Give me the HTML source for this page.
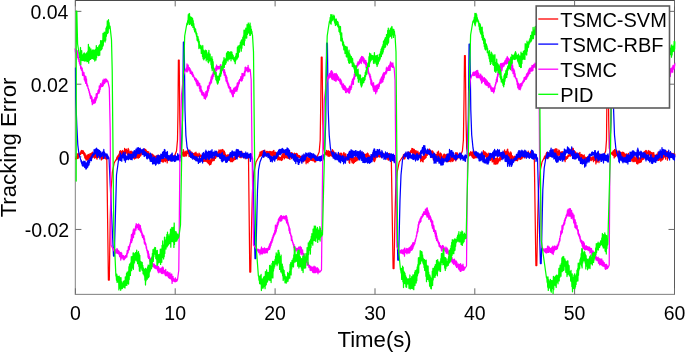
<!DOCTYPE html>
<html><head><meta charset="utf-8"><style>
html,body{margin:0;padding:0;background:#fff;}
body{width:685px;height:352px;overflow:hidden;position:relative;font-family:"Liberation Sans",sans-serif;}
svg{position:absolute;left:0;top:0;will-change:transform;}
.t{font-family:"Liberation Sans",sans-serif;fill:#000;}
</style></head><body>
<svg width="685" height="352" viewBox="0 0 685 352">
<defs><clipPath id="c"><rect x="74.5" y="0.4" width="600.9" height="293.90000000000003"/></clipPath></defs>
<g stroke="none">
<rect x="74" y="0" width="1" height="295" fill="#e6e6e6"/>
<rect x="75" y="0" width="1" height="295" fill="#9a9a9a"/>
<rect x="674" y="0" width="1" height="295" fill="#5a5a5a"/>
<rect x="75" y="0" width="600" height="1" fill="#4a4a4a"/>
<rect x="75" y="293" width="600" height="1" fill="#ececec"/>
<rect x="75" y="294" width="600" height="1" fill="#909090"/>
</g>
<g stroke="#6a6a6a" stroke-width="1" fill="none">
<line x1="75.4" y1="294.3" x2="75.4" y2="288.3"/>
<line x1="75.4" y1="0.4" x2="75.4" y2="6.4"/>
<line x1="175.2" y1="294.3" x2="175.2" y2="288.3"/>
<line x1="175.2" y1="0.4" x2="175.2" y2="6.4"/>
<line x1="275.1" y1="294.3" x2="275.1" y2="288.3"/>
<line x1="275.1" y1="0.4" x2="275.1" y2="6.4"/>
<line x1="375.0" y1="294.3" x2="375.0" y2="288.3"/>
<line x1="375.0" y1="0.4" x2="375.0" y2="6.4"/>
<line x1="474.8" y1="294.3" x2="474.8" y2="288.3"/>
<line x1="474.8" y1="0.4" x2="474.8" y2="6.4"/>
<line x1="574.6" y1="294.3" x2="574.6" y2="288.3"/>
<line x1="574.6" y1="0.4" x2="574.6" y2="6.4"/>
<line x1="674.5" y1="294.3" x2="674.5" y2="288.3"/>
<line x1="674.5" y1="0.4" x2="674.5" y2="6.4"/>
<line x1="75.4" y1="11.35" x2="81.4" y2="11.35"/>
<line x1="674.5" y1="11.35" x2="668.5" y2="11.35"/>
<line x1="75.4" y1="84.2" x2="81.4" y2="84.2"/>
<line x1="674.5" y1="84.2" x2="668.5" y2="84.2"/>
<line x1="75.4" y1="156.85" x2="81.4" y2="156.85"/>
<line x1="674.5" y1="156.85" x2="668.5" y2="156.85"/>
<line x1="75.4" y1="229.45" x2="81.4" y2="229.45"/>
<line x1="674.5" y1="229.45" x2="668.5" y2="229.45"/>
</g>
<g clip-path="url(#c)" fill="none" stroke-width="1.25" stroke-linejoin="round" stroke-linecap="round">
<path d="M75.7,159.0 76.0,157.9 76.3,158.9 76.6,156.9 76.9,158.7 77.2,154.0 77.5,157.1 77.8,153.8 78.1,158.4 78.4,153.7 78.7,157.1 79.1,154.2 79.4,155.4 79.7,153.6 80.0,154.7 80.3,152.7 80.6,154.4 80.9,151.2 81.2,153.3 81.5,150.5 81.8,153.2 82.1,150.5 82.4,153.4 82.7,150.8 83.0,153.2 83.3,150.8 83.6,154.2 83.9,152.1 84.2,155.7 84.5,152.8 84.8,157.9 85.2,153.9 85.5,158.6 85.8,155.8 86.1,160.1 86.4,155.8 86.7,159.6 87.0,155.1 87.3,159.9 87.6,155.4 87.9,160.0 88.2,154.4 88.5,159.3 88.8,154.7 89.1,158.6 89.4,156.2 89.7,158.3 90.0,153.6 90.3,159.1 90.6,155.1 90.9,158.9 91.2,153.4 91.6,158.9 91.9,153.0 92.2,157.4 92.5,152.2 92.8,157.0 93.1,153.6 93.4,157.2 93.7,154.1 94.0,156.3 94.3,153.6 94.6,158.2 94.9,152.8 95.2,157.5 95.5,155.1 95.8,157.4 96.1,153.0 96.4,157.9 96.7,153.2 97.0,159.2 97.3,155.0 97.7,156.8 98.0,154.7 98.3,157.2 98.6,154.2 98.9,157.3 99.2,153.9 99.5,156.5 99.8,154.0 100.1,157.0 100.4,153.7 100.7,156.7 101.0,154.1 101.3,160.0 101.6,153.3 101.9,159.3 102.2,152.9 102.5,158.8 102.8,154.7 103.1,158.7 103.4,156.0 103.8,157.8 104.1,155.3 104.4,158.1 104.7,156.6 105.0,158.3 105.3,155.7 105.6,158.7 105.9,156.3 106.2,159.2 106.5,157.6 106.8,158.0 106.8,158.0 108.4,280.0 109.3,280.0 110.2,220.0 111.0,190.0 112.4,172.0 114.2,163.0 115.8,160.0 115.8,160.0 116.1,159.5 116.4,159.9 116.7,157.6 117.0,159.1 117.3,156.7 117.6,158.7 117.9,155.7 118.2,159.7 118.5,155.0 118.8,158.3 119.1,153.8 119.4,157.2 119.7,151.3 120.0,156.7 120.3,150.6 120.6,157.7 120.9,151.2 121.2,154.7 121.5,152.4 121.9,154.2 122.2,150.9 122.5,154.0 122.8,150.5 123.1,155.5 123.4,151.7 123.7,153.3 124.0,151.3 124.3,155.6 124.6,148.4 124.9,155.3 125.2,149.2 125.5,153.4 125.8,150.1 126.1,152.7 126.4,149.2 126.7,153.0 127.0,150.1 127.3,154.3 127.6,150.5 127.9,155.3 128.2,148.4 128.5,153.6 128.8,149.7 129.1,154.3 129.4,151.5 129.7,153.4 130.0,152.1 130.3,153.9 130.6,151.3 130.9,155.1 131.2,151.2 131.5,155.3 131.8,151.9 132.1,156.6 132.4,152.1 132.7,157.3 133.0,154.9 133.3,158.1 133.7,154.7 134.0,157.1 134.3,154.8 134.6,159.0 134.9,155.0 135.2,158.1 135.5,152.8 135.8,158.2 136.1,153.6 136.4,157.8 136.7,153.3 137.0,157.7 137.3,153.4 137.6,157.3 137.9,153.7 138.2,158.3 138.5,154.7 138.8,156.5 139.1,152.9 139.4,157.4 139.7,153.0 140.0,156.1 140.3,152.4 140.6,155.9 140.9,152.5 141.2,155.0 141.5,150.9 141.8,153.4 142.1,150.9 142.4,152.9 142.7,149.7 143.0,152.0 143.3,150.3 143.6,153.6 143.9,149.3 144.2,152.0 144.5,148.9 144.8,152.7 145.2,149.5 145.5,154.9 145.8,149.5 146.1,153.3 146.4,150.6 146.7,153.6 147.0,151.4 147.3,154.5 147.6,151.7 147.9,153.9 148.2,152.0 148.5,155.2 148.8,151.9 149.1,157.4 149.4,153.6 149.7,156.7 150.0,153.7 150.3,155.0 150.6,154.2 150.9,157.2 151.2,153.9 151.5,156.9 151.8,154.5 152.1,156.5 152.4,154.1 152.7,157.2 153.0,155.6 153.3,157.7 153.6,155.0 153.9,159.0 154.2,156.5 154.5,158.3 154.8,156.1 155.1,158.8 155.4,156.3 155.7,160.1 156.0,156.3 156.3,158.9 156.6,155.9 157.0,159.1 157.3,156.4 157.6,159.6 157.9,155.1 158.2,159.0 158.5,156.7 158.8,158.9 159.1,156.0 159.4,159.7 159.7,155.8 160.0,160.5 160.3,157.5 160.6,159.7 160.9,157.6 161.2,161.0 161.5,158.6 161.8,161.5 162.1,158.1 162.4,160.3 162.7,158.5 163.0,162.3 163.3,158.8 163.6,161.7 163.9,158.3 164.2,160.8 164.5,158.4 164.8,160.7 165.1,158.9 165.4,161.6 165.7,156.4 166.0,160.0 166.3,157.7 166.6,160.7 166.9,154.9 167.2,162.9 167.5,157.8 167.8,160.5 168.1,157.7 168.4,160.1 168.8,156.4 169.1,159.4 169.4,157.8 169.7,160.3 170.0,156.6 170.3,160.9 170.6,156.6 170.9,158.6 171.2,156.8 171.5,160.2 171.8,155.7 172.1,158.3 172.4,155.5 172.7,158.3 173.0,155.7 173.3,157.4 173.6,155.9 173.9,156.6 174.2,156.0 174.5,156.0 174.5,156.0 176.5,151.0 177.5,140.0 178.0,110.0 178.4,60.0 179.2,60.0 179.8,120.0 180.5,148.0 181.8,154.0 181.8,154.0 182.1,153.0 182.4,154.9 182.7,152.1 183.0,156.2 183.3,149.6 183.6,155.9 183.9,152.2 184.2,156.5 184.5,152.3 184.8,155.1 185.1,151.1 185.4,155.6 185.7,152.3 186.0,156.2 186.3,151.6 186.6,155.6 186.9,150.9 187.2,153.4 187.5,151.8 187.8,153.5 188.1,150.0 188.4,153.7 188.7,151.3 189.0,156.5 189.3,150.3 189.6,156.4 189.9,150.2 190.3,155.2 190.6,152.9 190.9,156.7 191.2,153.4 191.5,155.5 191.8,152.2 192.1,157.4 192.4,152.8 192.7,155.9 193.0,153.4 193.3,157.8 193.6,153.6 193.9,156.9 194.2,153.5 194.5,159.4 194.8,153.0 195.1,158.4 195.4,152.8 195.7,158.4 196.0,152.2 196.3,157.6 196.6,153.5 196.9,156.1 197.2,153.7 197.5,157.1 197.8,155.3 198.1,156.7 198.4,154.7 198.7,156.3 199.0,153.1 199.3,156.6 199.6,153.8 199.9,156.8 200.2,155.0 200.5,156.9 200.8,155.1 201.1,157.2 201.4,155.5 201.7,158.9 202.0,156.0 202.3,158.7 202.6,156.8 202.9,159.3 203.2,155.7 203.5,161.4 203.8,154.3 204.1,160.3 204.4,155.7 204.7,161.3 205.0,156.3 205.3,160.4 205.6,155.9 205.9,161.4 206.2,156.1 206.5,161.1 206.9,157.0 207.2,162.1 207.5,158.7 207.8,162.7 208.1,159.5 208.4,163.4 208.7,159.1 209.0,163.9 209.3,160.0 209.6,165.0 209.9,161.0 210.2,162.6 210.5,159.8 210.8,164.4 211.1,158.4 211.4,162.9 211.7,158.8 212.0,161.1 212.3,158.7 212.6,160.8 212.9,158.2 213.2,159.7 213.5,157.3 213.8,160.6 214.1,154.8 214.4,160.2 214.7,154.4 215.0,158.4 215.3,153.7 215.6,158.3 215.9,152.6 216.2,157.2 216.5,154.2 216.8,155.8 217.1,153.4 217.4,155.1 217.7,152.5 218.0,154.3 218.3,151.5 218.6,154.4 218.9,150.0 219.2,154.5 219.5,150.3 219.8,153.5 220.1,150.2 220.4,153.4 220.7,150.1 221.0,153.3 221.3,149.8 221.6,152.8 221.9,150.7 222.2,154.2 222.5,149.5 222.8,154.3 223.1,149.9 223.4,158.7 223.8,151.3 224.1,155.4 224.4,151.2 224.7,156.6 225.0,152.6 225.3,156.7 225.6,154.3 225.9,157.9 226.2,155.5 226.5,157.9 226.8,155.7 227.1,158.2 227.4,154.8 227.7,158.7 228.0,154.9 228.3,158.9 228.6,154.8 228.9,160.2 229.2,156.0 229.5,160.7 229.8,155.3 230.1,158.9 230.4,156.5 230.7,161.6 231.0,155.6 231.3,160.8 231.6,156.4 231.9,161.7 232.2,157.6 232.5,161.6 232.8,158.5 233.1,160.7 233.4,158.1 233.7,160.6 234.0,157.9 234.3,159.0 234.6,157.0 234.9,159.4 235.2,154.8 235.5,159.4 235.8,154.5 236.1,158.0 236.4,151.9 236.7,158.4 237.0,152.6 237.3,157.4 237.6,150.4 237.9,156.7 238.2,153.2 238.5,156.4 238.8,153.5 239.1,156.8 239.4,153.0 239.7,157.3 240.0,151.5 240.4,157.2 240.7,153.2 241.0,157.8 241.3,151.2 241.6,157.0 241.9,151.8 242.2,157.0 242.5,153.1 242.8,156.0 243.1,153.3 243.4,155.4 243.7,154.1 244.0,156.2 244.3,153.7 244.6,157.2 244.9,154.3 245.2,158.6 245.5,154.5 245.8,157.7 246.1,154.1 246.4,157.2 246.7,155.8 247.0,157.7 247.3,155.4 247.6,157.7 247.9,156.7 248.2,157.8 248.5,157.5 248.5,157.5 249.8,272.0 250.7,272.0 251.7,220.0 252.5,190.0 254.0,172.0 256.0,162.0 258.5,157.5 258.5,157.5 258.8,156.7 259.1,156.9 259.4,154.7 259.7,156.0 260.0,152.1 260.3,156.2 260.6,152.7 260.9,155.7 261.2,151.3 261.5,155.4 261.8,151.4 262.1,154.3 262.4,151.4 262.7,155.3 263.0,150.7 263.3,155.1 263.6,150.7 263.9,155.7 264.2,150.8 264.5,156.2 264.8,150.2 265.1,155.5 265.4,151.9 265.7,154.8 266.0,153.1 266.3,154.1 266.6,151.3 266.9,154.2 267.2,152.0 267.5,153.8 267.8,151.3 268.1,152.9 268.5,151.9 268.8,153.6 269.1,151.8 269.4,153.5 269.7,151.3 270.0,154.5 270.3,152.1 270.6,155.3 270.9,151.5 271.2,155.5 271.5,152.3 271.8,154.7 272.1,151.6 272.4,155.4 272.7,152.2 273.0,156.8 273.3,150.8 273.6,156.6 273.9,150.3 274.2,156.3 274.5,152.8 274.8,158.6 275.1,152.5 275.4,158.2 275.7,152.2 276.0,156.7 276.3,153.0 276.6,158.0 276.9,154.8 277.2,156.9 277.5,153.3 277.8,160.2 278.1,155.1 278.4,159.4 278.7,156.3 279.0,159.4 279.3,157.6 279.6,159.9 279.9,157.4 280.2,159.9 280.5,157.6 280.8,159.7 281.1,157.1 281.4,160.5 281.7,155.6 282.0,160.1 282.3,154.3 282.6,159.5 282.9,153.2 283.2,157.4 283.5,153.0 283.8,156.6 284.1,153.7 284.4,158.8 284.7,152.8 285.0,157.2 285.3,152.3 285.6,157.7 285.9,153.2 286.2,157.2 286.5,154.1 286.8,157.9 287.1,155.0 287.4,158.1 287.8,155.3 288.1,156.7 288.4,153.4 288.7,158.5 289.0,151.9 289.3,157.6 289.6,153.2 289.9,159.4 290.2,154.0 290.5,156.4 290.8,153.2 291.1,157.3 291.4,152.7 291.7,158.6 292.0,152.9 292.3,157.0 292.6,153.3 292.9,157.2 293.2,154.3 293.5,156.4 293.8,154.4 294.1,158.9 294.4,153.1 294.7,158.5 295.0,154.5 295.3,158.9 295.6,153.8 295.9,159.7 296.2,153.5 296.5,158.6 296.8,153.4 297.1,156.9 297.4,154.1 297.7,157.1 298.0,155.1 298.3,157.4 298.6,155.7 298.9,156.8 299.2,155.6 299.5,157.7 299.8,155.8 300.1,157.7 300.4,156.7 300.7,158.9 301.0,156.5 301.3,159.1 301.6,156.7 301.9,159.3 302.2,156.2 302.5,160.9 302.8,157.6 303.1,162.0 303.4,155.0 303.7,161.3 304.0,156.6 304.3,160.7 304.6,157.9 304.9,160.6 305.2,156.1 305.5,160.5 305.8,156.8 306.1,163.8 306.4,158.4 306.7,161.2 307.0,156.3 307.4,162.4 307.7,158.2 308.0,162.9 308.3,157.9 308.6,161.3 308.9,158.0 309.2,161.4 309.5,158.0 309.8,159.5 310.1,157.1 310.4,160.0 310.7,157.5 311.0,160.4 311.3,157.4 311.6,160.2 311.9,157.2 312.2,160.5 312.5,158.2 312.8,160.7 313.1,158.8 313.4,160.3 313.7,158.4 314.0,161.1 314.3,158.2 314.6,161.9 314.9,157.9 315.2,162.0 315.5,156.0 315.8,161.7 316.1,157.5 316.4,159.1 316.7,156.6 317.0,157.0 317.0,157.0 319.2,152.0 320.2,140.0 320.8,100.0 321.3,57.0 322.1,57.0 322.8,120.0 323.5,148.0 325.0,154.0 325.0,154.0 325.3,153.3 325.6,154.2 325.9,152.2 326.2,155.0 326.5,150.3 326.8,154.8 327.1,151.9 327.4,154.8 327.7,151.1 328.0,156.2 328.3,150.7 328.6,155.2 328.9,152.4 329.2,156.5 329.5,151.4 329.8,155.4 330.1,151.5 330.4,155.6 330.7,152.0 331.0,155.1 331.3,151.6 331.6,156.0 331.9,151.5 332.2,156.1 332.5,149.7 332.8,156.8 333.1,151.6 333.4,156.2 333.7,151.0 334.0,156.0 334.3,152.4 334.6,156.4 334.9,152.8 335.2,155.6 335.5,154.2 335.8,156.5 336.2,155.1 336.5,156.6 336.8,155.3 337.1,157.6 337.4,155.3 337.7,157.4 338.0,154.0 338.3,158.0 338.6,155.0 338.9,158.8 339.2,154.5 339.5,158.6 339.8,153.3 340.1,159.9 340.4,155.1 340.7,158.1 341.0,153.0 341.3,158.8 341.6,153.3 341.9,158.1 342.2,156.0 342.5,160.2 342.8,154.9 343.1,158.7 343.4,153.2 343.7,158.8 344.0,152.5 344.3,159.4 344.6,154.8 344.9,159.4 345.2,154.0 345.5,159.9 345.8,153.9 346.1,158.2 346.4,157.1 346.7,159.0 347.0,156.7 347.3,160.3 347.6,156.7 347.9,159.3 348.2,156.6 348.5,158.0 348.8,156.7 349.1,162.5 349.4,155.3 349.7,163.3 350.0,155.3 350.3,159.4 350.6,157.7 350.9,159.4 351.2,158.8 351.5,160.9 351.8,157.7 352.1,162.7 352.4,157.0 352.7,161.0 353.0,158.0 353.3,163.5 353.6,159.4 353.9,162.7 354.2,158.0 354.5,162.3 354.8,157.1 355.1,161.1 355.4,156.6 355.7,161.4 356.0,157.4 356.3,159.6 356.6,157.4 356.9,160.7 357.2,155.2 357.5,158.1 357.8,154.7 358.1,159.9 358.5,154.4 358.8,157.4 359.1,153.8 359.4,156.7 359.7,154.2 360.0,157.3 360.3,152.8 360.6,155.2 360.9,151.8 361.2,157.3 361.5,152.3 361.8,155.4 362.1,153.7 362.4,155.5 362.7,153.5 363.0,157.4 363.3,152.6 363.6,158.2 363.9,153.7 364.2,157.6 364.5,154.3 364.8,157.5 365.1,154.6 365.4,156.5 365.7,154.5 366.0,156.8 366.3,153.9 366.6,157.3 366.9,154.7 367.2,156.9 367.5,153.0 367.8,159.4 368.1,153.6 368.4,160.6 368.7,154.8 369.0,158.8 369.3,155.7 369.6,158.5 369.9,156.9 370.2,160.4 370.5,156.7 370.8,159.6 371.1,156.5 371.4,158.7 371.7,155.1 372.0,159.0 372.3,155.3 372.6,158.4 372.9,153.3 373.2,159.8 373.5,153.5 373.8,160.9 374.1,152.1 374.4,161.7 374.7,152.3 375.0,160.8 375.3,153.3 375.6,158.9 375.9,153.1 376.2,157.0 376.5,154.3 376.8,157.3 377.1,154.8 377.4,156.7 377.7,154.1 378.0,156.1 378.3,153.7 378.6,156.7 378.9,151.5 379.2,156.8 379.5,149.6 379.8,157.1 380.1,152.1 380.5,156.4 380.8,152.8 381.1,156.7 381.4,153.1 381.7,157.8 382.0,152.0 382.3,155.4 382.6,154.3 382.9,155.1 383.2,153.5 383.5,155.7 383.8,153.7 384.1,157.0 384.4,154.7 384.7,156.8 385.0,154.1 385.3,156.2 385.6,154.3 385.9,157.9 386.2,154.6 386.5,157.5 386.8,153.8 387.1,159.1 387.4,154.4 387.7,158.1 388.0,153.8 388.3,160.1 388.6,154.0 388.9,160.0 389.2,153.4 389.5,159.2 389.8,153.8 390.1,159.7 390.4,155.3 390.7,158.8 391.0,157.3 391.3,158.0 391.3,158.0 393.1,268.5 394.0,268.5 394.9,220.0 395.7,190.0 397.2,172.0 399.2,162.0 402.5,157.0 402.5,157.0 402.8,156.6 403.1,157.5 403.4,154.9 403.7,158.8 404.0,154.4 404.3,159.0 404.6,154.5 404.9,158.6 405.2,153.5 405.5,156.3 405.8,154.6 406.1,155.9 406.4,154.3 406.7,155.7 407.0,153.7 407.3,156.7 407.6,152.6 407.9,156.3 408.2,152.0 408.6,155.5 408.9,152.4 409.2,153.8 409.5,152.7 409.8,154.3 410.1,151.7 410.4,153.4 410.7,150.7 411.0,152.8 411.3,150.1 411.6,152.4 411.9,148.4 412.2,152.2 412.5,148.7 412.8,154.4 413.1,148.9 413.4,153.1 413.7,149.7 414.0,152.9 414.3,149.3 414.6,154.3 414.9,150.5 415.2,156.0 415.5,150.9 415.8,153.8 416.1,150.7 416.4,154.3 416.7,151.8 417.0,154.6 417.3,152.6 417.6,155.6 417.9,151.2 418.2,155.0 418.5,152.8 418.8,156.8 419.1,154.1 419.4,157.6 419.7,152.7 420.1,157.1 420.4,152.7 420.7,161.6 421.0,155.7 421.3,159.8 421.6,155.9 421.9,160.4 422.2,156.6 422.5,161.4 422.8,157.0 423.1,161.9 423.4,156.2 423.7,159.4 424.0,156.8 424.3,159.2 424.6,154.9 424.9,158.1 425.2,154.8 425.5,158.2 425.8,152.9 426.1,157.5 426.4,153.4 426.7,155.0 427.0,151.5 427.3,155.3 427.6,149.8 427.9,153.0 428.2,150.2 428.5,152.7 428.8,149.9 429.1,153.1 429.4,149.0 429.7,151.7 430.0,150.2 430.3,153.5 430.6,150.6 430.9,156.3 431.2,151.0 431.6,156.7 431.9,151.1 432.2,157.7 432.5,150.9 432.8,156.5 433.1,151.7 433.4,160.1 433.7,152.8 434.0,158.8 434.3,154.2 434.6,157.2 434.9,153.8 435.2,158.0 435.5,155.4 435.8,156.7 436.1,154.7 436.4,158.2 436.7,154.5 437.0,160.7 437.3,152.1 437.6,161.1 437.9,152.2 438.2,160.7 438.5,151.2 438.8,157.0 439.1,154.3 439.4,157.1 439.7,154.0 440.0,157.2 440.3,152.9 440.6,158.4 440.9,153.3 441.2,158.7 441.5,154.0 441.8,159.2 442.1,156.0 442.4,159.3 442.7,156.5 443.1,158.9 443.4,154.8 443.7,161.3 444.0,154.2 444.3,160.9 444.6,154.2 444.9,160.2 445.2,155.5 445.5,159.3 445.8,155.0 446.1,159.2 446.4,154.3 446.7,160.7 447.0,154.4 447.3,159.9 447.6,155.5 447.9,161.8 448.2,156.0 448.5,160.6 448.8,156.0 449.1,161.5 449.4,156.9 449.7,159.4 450.0,158.1 450.3,161.1 450.6,156.4 450.9,161.8 451.2,157.1 451.5,160.6 451.8,155.8 452.1,160.0 452.4,157.8 452.7,161.5 453.0,155.8 453.3,160.7 453.6,157.3 453.9,160.0 454.2,156.5 454.6,159.3 454.9,155.2 455.2,159.3 455.5,153.0 455.8,160.9 456.1,152.7 456.4,157.7 456.7,153.9 457.0,159.3 457.3,152.9 457.6,158.1 457.9,155.3 458.2,157.9 458.5,154.6 458.8,156.6 459.1,155.2 459.4,157.7 459.7,154.7 460.0,156.8 460.3,156.0 460.3,156.0 462.4,151.0 463.4,140.0 464.0,100.0 464.5,55.5 465.3,55.5 466.0,120.0 466.7,148.0 468.0,154.0 468.0,154.0 468.3,153.4 468.6,155.2 468.9,153.4 469.2,155.9 469.5,153.0 469.8,155.4 470.1,153.6 470.4,155.2 470.7,151.7 471.0,155.1 471.3,153.0 471.6,155.9 471.9,152.2 472.2,157.0 472.5,152.3 472.8,157.7 473.1,151.0 473.4,158.3 473.8,152.2 474.1,156.6 474.4,151.9 474.7,158.2 475.0,153.1 475.3,157.7 475.6,152.5 475.9,156.5 476.2,154.9 476.5,157.6 476.8,153.7 477.1,156.2 477.4,155.2 477.7,156.4 478.0,155.0 478.3,156.1 478.6,153.9 478.9,157.3 479.2,155.4 479.5,157.7 479.8,154.4 480.1,156.5 480.4,154.6 480.7,156.3 481.0,154.5 481.3,155.8 481.6,154.3 481.9,156.7 482.2,154.0 482.5,156.3 482.8,152.6 483.1,158.0 483.4,150.6 483.7,156.2 484.0,151.4 484.3,156.8 484.7,154.2 485.0,155.8 485.3,152.0 485.6,156.4 485.9,153.9 486.2,157.6 486.5,153.1 486.8,159.0 487.1,154.2 487.4,157.8 487.7,154.7 488.0,158.6 488.3,153.2 488.6,161.0 488.9,155.3 489.2,158.2 489.5,155.5 489.8,157.8 490.1,155.9 490.4,160.5 490.7,156.8 491.0,159.8 491.3,155.1 491.6,159.4 491.9,155.3 492.2,162.0 492.5,156.6 492.8,160.8 493.1,157.9 493.4,161.5 493.7,156.5 494.0,164.1 494.3,158.8 494.6,162.8 494.9,158.4 495.2,164.0 495.5,158.3 495.9,164.3 496.2,158.4 496.5,161.9 496.8,158.7 497.1,163.8 497.4,155.8 497.7,163.6 498.0,158.8 498.3,162.3 498.6,159.2 498.9,160.8 499.2,158.5 499.5,159.5 499.8,157.2 500.1,161.0 500.4,153.9 500.7,158.8 501.0,153.8 501.3,159.4 501.6,154.9 501.9,156.3 502.2,154.2 502.5,155.9 502.8,153.4 503.1,156.6 503.4,152.4 503.7,156.4 504.0,151.5 504.3,155.4 504.6,149.8 504.9,154.7 505.2,151.7 505.5,155.3 505.8,151.7 506.1,155.6 506.4,151.7 506.8,153.8 507.1,150.0 507.4,155.1 507.7,149.1 508.0,155.6 508.3,151.9 508.6,158.4 508.9,152.2 509.2,155.6 509.5,153.4 509.8,158.5 510.1,153.3 510.4,160.0 510.7,151.9 511.0,160.5 511.3,152.8 511.6,160.8 511.9,155.6 512.2,160.4 512.5,155.8 512.8,159.0 513.1,156.9 513.4,160.0 513.7,157.6 514.0,160.7 514.3,156.5 514.6,159.3 514.9,156.2 515.2,160.6 515.5,157.4 515.8,159.9 516.1,157.6 516.4,160.5 516.7,157.0 517.0,159.6 517.3,157.2 517.6,160.8 518.0,157.0 518.3,159.1 518.6,157.3 518.9,158.8 519.2,155.1 519.5,158.3 519.8,155.3 520.1,159.5 520.4,155.9 520.7,159.3 521.0,155.7 521.3,157.1 521.6,155.0 521.9,158.8 522.2,154.8 522.5,157.6 522.8,154.3 523.1,156.4 523.4,154.2 523.7,155.5 524.0,153.4 524.3,157.9 524.6,151.0 524.9,157.7 525.2,151.5 525.5,156.6 525.8,153.3 526.1,156.1 526.4,153.5 526.7,156.7 527.0,153.7 527.3,156.1 527.6,152.7 527.9,156.5 528.2,151.2 528.5,155.9 528.9,153.7 529.2,155.5 529.5,153.1 529.8,155.5 530.1,152.8 530.4,154.9 530.7,151.7 531.0,156.5 531.3,153.3 531.6,155.9 531.9,154.0 532.2,155.4 532.5,154.0 532.8,156.3 533.1,154.0 533.4,156.5 533.7,155.8 534.0,157.8 534.3,157.5 534.3,157.5 535.9,265.5 536.8,265.5 537.7,220.0 538.5,190.0 540.0,172.0 542.0,162.0 544.0,158.0 544.0,158.0 544.3,157.0 544.6,158.4 544.9,156.0 545.2,159.2 545.5,155.6 545.8,157.8 546.1,153.7 546.4,158.1 546.7,152.4 547.0,157.9 547.3,152.8 547.6,158.3 547.9,153.0 548.2,157.9 548.5,152.5 548.8,157.4 549.1,154.0 549.4,155.3 549.7,153.4 550.0,155.6 550.3,152.3 550.6,155.3 550.9,151.9 551.2,154.1 551.6,151.4 551.9,154.5 552.2,150.2 552.5,154.0 552.8,150.6 553.1,153.3 553.4,151.3 553.7,152.8 554.0,149.6 554.3,154.0 554.6,150.8 554.9,155.2 555.2,149.0 555.5,154.5 555.8,148.8 556.1,155.8 556.4,149.0 556.7,153.5 557.0,149.0 557.3,155.3 557.6,151.3 557.9,155.8 558.2,151.5 558.5,154.9 558.8,150.0 559.1,155.2 559.4,150.5 559.7,154.4 560.0,151.9 560.3,156.2 560.6,152.6 560.9,155.2 561.2,152.2 561.5,157.6 561.8,151.8 562.1,158.9 562.4,151.7 562.7,158.8 563.0,153.1 563.3,159.3 563.6,155.9 563.9,159.3 564.2,155.7 564.5,160.0 564.8,155.1 565.1,161.6 565.4,156.8 565.7,159.1 566.0,156.7 566.3,159.3 566.7,157.2 567.0,158.1 567.3,156.5 567.6,158.3 567.9,155.2 568.2,157.0 568.5,155.4 568.8,156.3 569.1,154.3 569.4,155.4 569.7,153.1 570.0,155.9 570.3,149.6 570.6,156.1 570.9,150.8 571.2,153.3 571.5,151.0 571.8,154.7 572.1,150.3 572.4,154.9 572.7,148.2 573.0,155.3 573.3,148.5 573.6,153.6 573.9,151.2 574.2,153.5 574.5,150.8 574.8,155.1 575.1,151.9 575.4,154.6 575.7,152.2 576.0,155.3 576.3,153.3 576.6,155.4 576.9,153.3 577.2,156.2 577.5,154.0 577.8,156.2 578.1,154.0 578.4,156.5 578.7,153.4 579.0,159.5 579.3,153.2 579.6,157.8 579.9,152.4 580.2,159.4 580.5,155.1 580.8,159.0 581.1,154.7 581.5,158.8 581.8,154.4 582.1,159.4 582.4,155.1 582.7,158.9 583.0,155.6 583.3,158.6 583.6,156.3 583.9,158.7 584.2,154.8 584.5,160.8 584.8,157.0 585.1,160.0 585.4,157.2 585.7,160.7 586.0,157.6 586.3,160.7 586.6,157.5 586.9,160.9 587.2,157.3 587.5,161.0 587.8,156.5 588.1,160.6 588.4,156.8 588.7,160.4 589.0,157.8 589.3,159.7 589.6,155.4 589.9,160.1 590.2,157.4 590.5,159.8 590.8,157.5 591.1,160.6 591.4,158.2 591.7,160.2 592.0,157.4 592.3,159.7 592.6,157.1 592.9,159.4 593.2,156.5 593.5,161.7 593.8,157.4 594.1,160.5 594.4,157.2 594.7,160.0 595.0,154.8 595.3,160.6 595.6,158.0 595.9,163.9 596.2,158.4 596.6,161.7 596.9,155.7 597.2,162.1 597.5,156.3 597.8,161.1 598.1,156.5 598.4,160.2 598.7,156.4 599.0,162.6 599.3,154.2 599.6,159.9 599.9,154.1 600.2,159.1 600.5,155.7 600.8,158.6 601.1,155.7 601.4,160.7 601.7,155.4 602.0,158.7 602.3,156.3 602.6,157.5 602.9,156.3 603.2,156.8 603.5,155.4 603.8,155.5 603.8,155.5 605.7,151.0 606.5,140.0 606.9,100.0 607.3,50.0 608.1,50.0 608.7,120.0 609.3,148.0 610.6,154.0 610.6,154.0 610.9,153.3 611.2,153.9 611.5,153.0 611.8,154.1 612.1,152.1 612.4,154.3 612.7,151.8 613.0,155.4 613.3,150.7 613.6,154.5 613.9,151.6 614.2,157.9 614.5,149.7 614.8,155.2 615.1,149.3 615.4,156.6 615.7,151.5 616.0,154.2 616.3,150.7 616.6,155.7 616.9,150.7 617.3,155.2 617.6,152.1 617.9,155.1 618.2,152.0 618.5,157.2 618.8,151.2 619.1,156.8 619.4,151.8 619.7,156.6 620.0,151.7 620.3,156.1 620.6,152.7 620.9,156.3 621.2,153.1 621.5,155.0 621.8,152.5 622.1,157.6 622.4,152.1 622.7,157.5 623.0,153.4 623.3,156.4 623.6,152.4 623.9,157.5 624.2,153.0 624.5,156.9 624.8,154.0 625.1,157.3 625.4,154.1 625.7,158.1 626.0,154.6 626.3,157.6 626.6,153.9 626.9,156.9 627.2,155.3 627.5,158.1 627.8,155.8 628.1,157.9 628.4,153.4 628.7,159.5 629.0,155.2 629.3,157.9 629.6,155.3 629.9,158.2 630.3,157.1 630.6,159.6 630.9,155.4 631.2,158.8 631.5,156.1 631.8,161.0 632.1,155.8 632.4,159.2 632.7,156.7 633.0,161.7 633.3,156.9 633.6,159.7 633.9,154.8 634.2,161.7 634.5,156.8 634.8,160.7 635.1,157.8 635.4,161.1 635.7,158.2 636.0,161.5 636.3,156.1 636.6,163.3 636.9,156.7 637.2,163.8 637.5,156.9 637.8,163.9 638.1,156.8 638.4,162.1 638.7,157.4 639.0,163.0 639.3,157.8 639.6,162.3 639.9,158.8 640.2,161.5 640.5,159.0 640.8,162.4 641.1,155.9 641.4,161.4 641.7,156.9 642.0,159.8 642.3,154.4 642.6,159.6 642.9,153.3 643.3,159.4 643.6,152.8 643.9,158.7 644.2,151.6 644.5,157.9 644.8,153.4 645.1,156.4 645.4,150.9 645.7,155.9 646.0,150.3 646.3,155.8 646.6,150.9 646.9,154.0 647.2,152.7 647.5,153.8 647.8,152.1 648.1,153.8 648.4,150.5 648.7,155.2 649.0,151.7 649.3,154.8 649.6,151.2 649.9,155.0 650.2,151.4 650.5,155.2 650.8,152.5 651.1,155.2 651.4,152.5 651.7,155.9 652.0,152.9 652.3,157.5 652.6,152.9 652.9,159.2 653.2,153.0 653.5,160.7 653.8,152.7 654.1,161.2 654.4,156.1 654.7,161.3 655.0,155.1 655.3,159.1 655.6,156.1 655.9,159.8 656.3,154.8 656.6,158.8 656.9,154.2 657.2,160.2 657.5,156.3 657.8,159.5 658.1,152.1 658.4,160.4 658.7,156.6 659.0,160.4 659.3,155.9 659.6,159.5 659.9,156.2 660.2,159.5 660.5,155.7 660.8,161.3 661.1,156.7 661.4,159.6 661.7,157.1 662.0,160.2 662.3,157.4 662.6,159.5 662.9,154.2 663.2,159.0 663.5,154.5 663.8,157.4 664.1,154.6 664.4,156.9 664.7,153.8 665.0,156.3 665.3,153.1 665.6,159.1 665.9,150.9 666.2,156.1 666.5,151.6 666.8,156.4 667.1,152.7 667.4,160.2 667.7,151.6 668.0,157.8 668.3,152.8 668.6,156.7 668.9,153.5 669.3,156.7 669.6,154.7 669.9,156.5 670.2,153.2 670.5,156.9 670.8,152.6 671.1,155.9 671.4,153.4 671.7,157.2 672.0,153.4 672.3,156.1 672.6,154.1 672.9,156.4 673.2,153.5 673.5,157.8 673.8,154.0 674.1,156.4 674.4,154.1 674.7,156.4 675.0,154.2 675.3,155.4 675.6,154.5" stroke="#ff0000" />
<path d="M75.4,68.0 75.8,100.0 76.8,125.0 77.8,145.0 78.8,153.0 80.5,159.0 80.5,159.0 80.8,159.7 81.1,161.8 81.4,160.5 81.7,163.8 82.0,162.3 82.3,165.4 82.6,161.9 82.9,166.2 83.2,162.0 83.5,165.5 83.8,161.1 84.1,166.2 84.4,162.8 84.7,167.5 85.0,161.4 85.4,167.8 85.7,163.1 86.0,169.1 86.3,162.8 86.6,168.5 86.9,164.9 87.2,167.5 87.5,161.2 87.8,167.0 88.1,160.1 88.4,165.3 88.7,161.3 89.0,165.0 89.3,159.8 89.6,162.6 89.9,158.4 90.2,160.4 90.5,157.8 90.8,160.4 91.1,156.7 91.4,160.6 91.7,155.9 92.0,158.0 92.3,154.3 92.6,155.5 92.9,153.7 93.2,155.9 93.5,153.0 93.8,154.9 94.1,149.7 94.4,154.5 94.8,150.8 95.1,152.8 95.4,149.0 95.7,153.4 96.0,150.0 96.3,154.5 96.6,148.1 96.9,156.5 97.2,150.3 97.5,157.5 97.8,149.4 98.1,155.5 98.4,149.8 98.7,155.0 99.0,152.3 99.3,156.2 99.6,150.4 99.9,158.9 100.2,152.9 100.5,156.9 100.8,151.7 101.1,155.9 101.4,153.3 101.7,156.4 102.0,153.1 102.3,155.1 102.6,152.3 102.9,155.0 103.2,151.2 103.5,158.4 103.8,149.4 104.1,157.8 104.5,152.0 104.8,155.5 105.1,153.4 105.4,155.3 105.7,154.2 106.0,156.6 106.3,154.3 106.6,157.9 106.9,153.9 107.2,158.9 107.5,154.8 107.8,158.1 108.1,156.0 108.4,158.5 108.7,157.4 109.0,158.0 109.0,158.0 113.5,256.0 114.3,256.0 116.5,175.0 118.8,158.0 118.8,158.0 119.1,157.5 119.4,159.0 119.7,157.3 120.0,160.5 120.3,153.0 120.6,160.0 120.9,156.0 121.2,160.8 121.5,155.3 121.8,161.1 122.1,154.2 122.4,157.9 122.7,154.9 123.0,157.7 123.3,152.4 123.6,158.0 123.9,154.1 124.2,160.1 124.5,154.8 124.8,160.3 125.1,152.3 125.4,162.2 125.7,155.3 126.0,159.6 126.3,156.2 126.7,159.6 127.0,156.8 127.3,158.9 127.6,156.0 127.9,159.0 128.2,153.6 128.5,159.7 128.8,154.4 129.1,158.8 129.4,154.3 129.7,158.4 130.0,154.2 130.3,159.0 130.6,155.4 130.9,159.5 131.2,154.1 131.5,158.1 131.8,154.5 132.1,159.8 132.4,154.5 132.7,157.9 133.0,151.8 133.3,157.0 133.6,153.5 133.9,157.4 134.2,150.7 134.5,155.6 134.8,150.8 135.1,154.9 135.4,151.1 135.7,157.6 136.0,149.1 136.3,155.7 136.6,149.5 136.9,154.0 137.2,147.9 137.5,153.4 137.8,148.5 138.1,153.6 138.4,147.7 138.7,152.2 139.0,148.4 139.3,153.5 139.6,148.7 139.9,153.7 140.2,148.2 140.5,152.2 140.8,149.3 141.1,152.1 141.4,150.2 141.7,152.1 142.0,149.8 142.4,154.3 142.7,151.2 143.0,154.7 143.3,148.8 143.6,153.1 143.9,148.8 144.2,156.5 144.5,151.4 144.8,155.9 145.1,151.8 145.4,155.0 145.7,152.2 146.0,155.4 146.3,152.6 146.6,158.1 146.9,153.6 147.2,158.9 147.5,153.8 147.8,158.2 148.1,153.6 148.4,157.6 148.7,154.0 149.0,158.0 149.3,155.4 149.6,159.0 149.9,155.8 150.2,161.3 150.5,153.2 150.8,159.6 151.1,156.2 151.4,161.4 151.7,154.9 152.0,161.4 152.3,157.6 152.6,163.9 152.9,159.0 153.2,163.8 153.5,157.2 153.8,162.0 154.1,158.6 154.4,163.6 154.7,157.0 155.0,163.1 155.3,158.6 155.6,165.2 155.9,158.9 156.2,164.3 156.5,157.9 156.8,162.5 157.1,155.5 157.4,163.1 157.8,157.4 158.1,161.7 158.4,155.2 158.7,163.8 159.0,156.8 159.3,162.6 159.6,155.9 159.9,163.3 160.2,155.9 160.5,161.3 160.8,154.2 161.1,158.3 161.4,154.3 161.7,158.5 162.0,154.3 162.3,157.4 162.6,152.3 162.9,158.6 163.2,151.7 163.5,158.3 163.8,152.0 164.1,155.0 164.4,149.5 164.7,156.9 165.0,149.9 165.3,158.0 165.6,152.3 165.9,156.5 166.2,153.4 166.5,157.9 166.8,152.1 167.1,158.8 167.4,151.5 167.7,159.2 168.0,155.6 168.3,160.5 168.6,155.6 168.9,159.2 169.2,156.5 169.5,158.8 169.8,155.6 170.1,159.9 170.4,154.9 170.7,160.5 171.0,155.9 171.3,161.1 171.6,153.8 171.9,161.2 172.2,153.0 172.5,161.0 172.8,156.7 173.1,159.9 173.5,156.3 173.8,160.6 174.1,155.9 174.4,161.5 174.7,157.7 175.0,160.3 175.3,155.2 175.6,161.2 175.9,156.1 176.2,159.3 176.5,156.5 176.8,159.9 177.1,156.3 177.4,159.9 177.7,153.6 178.0,159.1 178.3,155.8 178.6,159.7 178.9,155.2 179.2,160.3 179.5,154.9 179.8,161.1 180.1,155.7 180.4,157.7 180.7,156.4 181.0,157.0 181.0,157.0 182.5,120.0 183.4,42.0 184.2,42.0 185.0,110.0 185.9,135.6 187.1,147.5 189.3,153.4 189.3,153.4 189.6,153.5 189.9,155.6 190.2,153.0 190.5,157.3 190.8,151.6 191.1,156.4 191.4,153.7 191.7,158.0 192.0,154.9 192.3,158.0 192.6,153.3 192.9,159.3 193.2,155.3 193.5,158.4 193.8,156.1 194.1,158.3 194.4,156.5 194.7,158.9 195.0,156.3 195.3,160.0 195.7,157.1 196.0,160.8 196.3,157.5 196.6,160.7 196.9,156.7 197.2,160.9 197.5,158.1 197.8,161.2 198.1,158.8 198.4,163.4 198.7,159.0 199.0,162.4 199.3,156.2 199.6,161.2 199.9,158.9 200.2,162.2 200.5,158.6 200.8,160.9 201.1,158.4 201.4,161.1 201.7,156.5 202.0,161.1 202.3,153.9 202.6,163.0 202.9,153.1 203.2,159.3 203.5,152.5 203.8,157.9 204.1,154.2 204.4,158.4 204.7,153.6 205.0,158.1 205.3,151.6 205.6,159.7 205.9,150.2 206.2,159.4 206.5,151.3 206.8,156.5 207.1,152.6 207.4,157.2 207.7,152.5 208.0,158.6 208.4,151.1 208.7,159.3 209.0,152.6 209.3,159.3 209.6,151.3 209.9,158.3 210.2,151.9 210.5,156.4 210.8,150.8 211.1,157.6 211.4,151.9 211.7,156.4 212.0,149.7 212.3,158.2 212.6,154.3 212.9,155.4 213.2,152.4 213.5,155.3 213.8,152.2 214.1,158.1 214.4,152.4 214.7,155.7 215.0,151.0 215.3,154.7 215.6,153.0 215.9,155.3 216.2,151.2 216.5,155.9 216.8,151.7 217.1,155.3 217.4,154.3 217.7,156.6 218.0,153.8 218.3,156.4 218.6,154.3 218.9,156.3 219.2,155.2 219.5,157.7 219.8,153.3 220.1,158.4 220.4,155.3 220.7,157.8 221.1,154.4 221.4,160.7 221.7,153.1 222.0,161.7 222.3,152.6 222.6,161.7 222.9,154.9 223.2,160.6 223.5,155.6 223.8,160.5 224.1,155.4 224.4,159.8 224.7,155.8 225.0,160.0 225.3,157.3 225.6,162.1 225.9,157.2 226.2,162.0 226.5,157.5 226.8,162.4 227.1,157.8 227.4,161.5 227.7,156.9 228.0,160.4 228.3,157.0 228.6,159.6 228.9,156.1 229.2,160.0 229.5,154.1 229.8,157.4 230.1,152.9 230.4,157.2 230.7,152.6 231.0,156.7 231.3,153.0 231.6,156.5 231.9,151.2 232.2,157.2 232.5,151.0 232.8,157.9 233.1,152.6 233.4,155.5 233.8,151.9 234.1,155.5 234.4,151.9 234.7,154.3 235.0,153.0 235.3,156.4 235.6,151.9 235.9,158.7 236.2,149.9 236.5,156.7 236.8,149.3 237.1,159.0 237.4,150.3 237.7,154.3 238.0,149.6 238.3,156.1 238.6,150.1 238.9,154.1 239.2,152.5 239.5,154.5 239.8,151.7 240.1,156.1 240.4,151.4 240.7,156.9 241.0,152.3 241.3,156.8 241.6,151.6 241.9,155.9 242.2,154.4 242.5,155.8 242.8,153.7 243.1,157.4 243.4,153.9 243.7,158.0 244.0,153.2 244.3,157.7 244.6,154.3 244.9,157.0 245.2,153.5 245.5,157.0 245.8,152.0 246.1,158.6 246.5,153.4 246.8,157.2 247.1,154.3 247.4,158.1 247.7,152.9 248.0,156.9 248.3,154.5 248.6,157.7 248.9,154.4 249.2,157.3 249.5,154.1 249.8,157.9 250.1,154.2 250.4,161.4 250.7,153.5 251.0,158.1 251.3,153.9 251.6,158.9 251.9,156.6 252.2,158.5 252.5,158.0 252.5,158.0 255.0,258.5 255.8,258.5 257.5,190.0 258.5,170.0 260.0,162.0 262.0,157.0 262.0,157.0 262.3,156.1 262.6,156.8 262.9,154.1 263.2,156.7 263.5,151.6 263.8,157.4 264.1,150.3 264.4,155.3 264.7,152.4 265.0,155.7 265.3,152.4 265.6,155.5 265.9,153.7 266.2,156.5 266.5,154.0 266.8,155.6 267.1,154.4 267.4,155.9 267.7,153.4 268.0,157.5 268.3,155.1 268.6,157.3 268.9,153.5 269.2,158.0 269.5,154.6 269.9,159.2 270.2,155.8 270.5,161.5 270.8,156.4 271.1,159.6 271.4,156.6 271.7,161.0 272.0,157.3 272.3,161.9 272.6,157.8 272.9,159.6 273.2,156.3 273.5,159.6 273.8,156.1 274.1,160.3 274.4,156.0 274.7,161.1 275.0,156.5 275.3,158.9 275.6,156.8 275.9,158.8 276.2,154.7 276.5,158.4 276.8,152.6 277.1,157.2 277.4,154.1 277.7,156.6 278.0,151.3 278.3,155.1 278.6,150.4 278.9,154.7 279.2,149.4 279.5,154.3 279.8,150.2 280.1,153.1 280.4,149.5 280.7,154.6 281.0,149.9 281.3,153.5 281.6,149.2 281.9,151.3 282.2,148.4 282.5,152.6 282.8,148.9 283.1,152.2 283.4,149.7 283.7,152.8 284.0,151.1 284.3,152.0 284.6,150.2 284.9,152.6 285.2,149.8 285.6,154.7 285.9,149.7 286.2,154.5 286.5,149.3 286.8,153.5 287.1,147.8 287.4,155.6 287.7,148.3 288.0,155.9 288.3,148.8 288.6,157.1 288.9,151.6 289.2,158.4 289.5,150.2 289.8,156.7 290.1,152.3 290.4,155.1 290.7,153.6 291.0,156.6 291.3,154.2 291.6,157.8 291.9,153.9 292.2,158.0 292.5,153.3 292.8,157.5 293.1,153.8 293.4,160.0 293.7,154.8 294.0,159.3 294.3,155.7 294.6,161.2 294.9,154.7 295.2,161.5 295.5,154.3 295.8,163.5 296.1,155.9 296.4,161.2 296.7,157.4 297.0,160.5 297.3,158.2 297.6,161.6 297.9,157.3 298.2,164.3 298.5,159.0 298.8,164.4 299.1,159.4 299.4,162.4 299.7,159.2 300.0,160.1 300.3,158.3 300.6,160.6 300.9,158.2 301.3,162.1 301.6,156.7 301.9,163.3 302.2,155.1 302.5,160.1 302.8,156.7 303.1,161.2 303.4,156.4 303.7,161.2 304.0,154.0 304.3,160.1 304.6,154.8 304.9,159.8 305.2,155.0 305.5,159.5 305.8,152.9 306.1,156.9 306.4,153.3 306.7,156.3 307.0,153.9 307.3,155.9 307.6,153.8 307.9,155.5 308.2,152.8 308.5,156.9 308.8,153.7 309.1,157.3 309.4,153.8 309.7,157.5 310.0,152.5 310.3,156.5 310.6,153.2 310.9,159.4 311.2,155.6 311.5,158.2 311.8,153.5 312.1,157.4 312.4,154.4 312.7,157.6 313.0,154.1 313.3,157.4 313.6,153.9 313.9,157.4 314.2,155.1 314.5,158.5 314.8,154.8 315.1,159.2 315.4,156.0 315.7,160.2 316.0,155.9 316.3,160.3 316.6,157.9 317.0,159.9 317.3,157.0 317.6,160.5 317.9,157.7 318.2,160.3 318.5,156.8 318.8,160.1 319.1,156.9 319.4,160.8 319.7,156.7 320.0,160.1 320.3,156.7 320.6,161.0 320.9,156.3 321.2,160.5 321.5,156.2 321.8,160.4 322.1,155.4 322.4,160.1 322.7,156.3 323.0,160.0 323.3,154.7 323.6,158.3 323.9,156.5 324.2,157.6 324.5,157.0 324.5,157.0 325.8,120.0 326.6,43.0 327.4,43.0 328.2,110.0 329.2,135.0 330.4,148.0 331.5,153.0 331.5,153.0 331.8,152.8 332.1,155.0 332.4,152.8 332.7,156.4 333.0,152.1 333.3,158.1 333.6,152.2 333.9,156.4 334.2,154.2 334.5,158.4 334.8,155.3 335.1,159.6 335.4,153.2 335.7,159.2 336.0,152.8 336.3,157.3 336.6,154.4 336.9,159.6 337.2,155.7 337.5,159.8 337.8,155.2 338.1,159.4 338.4,152.4 338.7,161.2 339.0,155.2 339.3,162.0 339.7,156.3 340.0,160.7 340.3,155.4 340.6,162.8 340.9,156.9 341.2,160.4 341.5,156.3 341.8,159.9 342.1,156.8 342.4,161.4 342.7,155.7 343.0,161.0 343.3,156.4 343.6,163.8 343.9,158.5 344.2,162.1 344.5,158.4 344.8,162.1 345.1,156.5 345.4,163.2 345.7,157.8 346.0,160.6 346.3,157.8 346.6,159.1 346.9,157.3 347.2,158.7 347.5,154.6 347.8,159.7 348.1,154.2 348.4,158.3 348.7,153.0 349.0,160.0 349.3,151.7 349.6,157.3 349.9,151.2 350.2,157.4 350.5,151.3 350.8,156.9 351.1,149.7 351.4,157.8 351.7,153.7 352.0,157.7 352.3,150.5 352.6,156.8 352.9,152.3 353.2,157.6 353.5,151.1 353.8,155.7 354.1,152.3 354.4,154.5 354.7,151.4 355.0,155.8 355.3,150.7 355.7,156.3 356.0,150.6 356.3,155.8 356.6,151.9 356.9,155.0 357.2,152.0 357.5,157.2 357.8,151.4 358.1,157.6 358.4,152.2 358.7,159.0 359.0,151.6 359.3,159.7 359.6,153.2 359.9,160.0 360.2,150.4 360.5,156.9 360.8,152.6 361.1,158.1 361.4,152.6 361.7,160.5 362.0,151.3 362.3,159.3 362.6,155.3 362.9,162.4 363.2,152.9 363.5,159.4 363.8,154.1 364.1,162.5 364.4,154.4 364.7,162.6 365.0,157.5 365.3,161.3 365.6,157.7 365.9,162.3 366.2,158.7 366.5,161.8 366.8,158.6 367.1,161.8 367.4,157.7 367.7,163.1 368.0,157.6 368.3,162.1 368.6,157.1 368.9,162.4 369.2,157.4 369.5,163.3 369.8,158.7 370.1,162.7 370.4,157.0 370.7,162.5 371.0,154.6 371.3,159.9 371.7,155.2 372.0,161.6 372.3,154.7 372.6,159.7 372.9,152.1 373.2,156.3 373.5,150.1 373.8,156.0 374.1,148.9 374.4,157.1 374.7,149.2 375.0,157.3 375.3,152.7 375.6,154.4 375.9,151.5 376.2,155.1 376.5,151.3 376.8,156.2 377.1,149.6 377.4,157.0 377.7,149.7 378.0,155.3 378.3,150.1 378.6,153.4 378.9,151.4 379.2,154.2 379.5,149.4 379.8,154.5 380.1,151.7 380.4,153.9 380.7,152.3 381.0,156.7 381.3,152.5 381.6,157.3 381.9,150.5 382.2,157.8 382.5,151.9 382.8,156.0 383.1,153.0 383.4,156.1 383.7,154.6 384.0,159.4 384.3,154.4 384.6,158.3 384.9,153.6 385.2,157.8 385.5,151.9 385.8,159.5 386.1,153.0 386.4,157.8 386.7,153.2 387.0,157.0 387.3,152.5 387.7,157.6 388.0,154.3 388.3,156.7 388.6,154.0 388.9,156.4 389.2,155.2 389.5,159.2 389.8,155.1 390.1,160.9 390.4,154.0 390.7,161.4 391.0,154.4 391.3,159.3 391.6,153.8 391.9,159.7 392.2,156.1 392.5,160.4 392.8,154.6 393.1,160.8 393.4,154.2 393.7,160.8 394.0,155.4 394.3,162.7 394.6,155.4 394.9,159.6 395.2,157.1 395.5,158.0 395.5,158.0 397.8,260.0 398.6,260.0 400.0,200.0 401.0,175.0 402.5,160.0 404.0,155.0 404.0,155.0 404.3,154.4 404.6,155.1 404.9,153.8 405.2,156.7 405.5,152.8 405.8,157.0 406.1,152.0 406.4,155.9 406.7,153.5 407.0,155.9 407.3,153.9 407.6,158.4 407.9,151.9 408.2,159.0 408.5,152.0 408.8,158.8 409.1,153.2 409.4,155.9 409.7,152.8 410.0,157.5 410.3,153.3 410.6,158.0 410.9,154.6 411.2,156.9 411.5,155.3 411.8,158.4 412.1,155.7 412.4,159.0 412.7,153.8 413.0,159.0 413.3,156.5 413.6,159.5 413.9,154.1 414.2,158.8 414.6,155.0 414.9,159.0 415.2,157.2 415.5,161.0 415.8,155.5 416.1,159.2 416.4,153.8 416.7,158.7 417.0,154.7 417.3,160.1 417.6,153.8 417.9,158.5 418.2,155.0 418.5,159.6 418.8,155.6 419.1,157.2 419.4,155.5 419.7,157.0 420.0,154.5 420.3,158.1 420.6,151.1 420.9,158.2 421.2,150.3 421.5,153.4 421.8,149.8 422.1,151.6 422.4,147.7 422.7,153.2 423.0,147.2 423.3,155.1 423.6,145.7 423.9,155.3 424.2,146.2 424.5,154.3 424.8,145.6 425.1,152.8 425.4,148.5 425.7,152.5 426.0,150.7 426.3,153.0 426.6,150.6 426.9,153.7 427.2,149.6 427.5,152.2 427.8,149.0 428.1,153.8 428.4,150.4 428.7,154.1 429.0,150.7 429.3,154.4 429.6,151.5 429.9,155.0 430.2,150.2 430.5,157.3 430.8,151.3 431.1,157.5 431.4,153.0 431.7,155.9 432.0,153.9 432.3,157.1 432.6,155.0 432.9,156.9 433.2,154.5 433.5,159.6 433.8,152.8 434.1,163.3 434.4,153.3 434.7,162.1 435.0,154.3 435.3,162.7 435.7,156.8 436.0,163.1 436.3,156.0 436.6,160.0 436.9,158.8 437.2,161.2 437.5,158.3 437.8,160.7 438.1,156.0 438.4,161.0 438.7,156.8 439.0,163.2 439.3,157.5 439.6,162.5 439.9,159.4 440.2,163.2 440.5,159.3 440.8,165.0 441.1,158.6 441.4,164.8 441.7,156.9 442.0,165.1 442.3,158.5 442.6,164.1 442.9,159.3 443.2,164.7 443.5,158.7 443.8,162.5 444.1,159.4 444.4,160.9 444.7,159.4 445.0,160.8 445.3,158.2 445.6,161.0 445.9,158.7 446.2,161.6 446.5,156.4 446.8,161.8 447.1,154.5 447.4,161.6 447.7,154.0 448.0,158.9 448.3,154.7 448.6,160.6 448.9,153.5 449.2,158.4 449.5,149.4 449.8,159.6 450.1,151.0 450.4,155.3 450.7,150.8 451.0,155.3 451.3,150.7 451.6,157.2 451.9,150.7 452.2,157.1 452.5,152.7 452.8,156.6 453.1,152.2 453.4,156.8 453.7,153.0 454.0,158.8 454.3,155.4 454.6,158.0 454.9,156.3 455.2,158.9 455.5,154.9 455.8,160.1 456.1,154.1 456.4,159.4 456.8,155.3 457.1,158.2 457.4,155.8 457.7,157.4 458.0,156.0 458.3,157.3 458.6,154.9 458.9,157.5 459.2,153.6 459.5,157.4 459.8,153.0 460.1,158.6 460.4,154.3 460.7,159.8 461.0,153.0 461.3,158.4 461.6,154.6 461.9,157.9 462.2,156.0 462.5,158.5 462.8,155.5 463.1,160.3 463.4,157.4 463.7,159.0 464.0,156.8 464.3,159.9 464.6,156.0 464.9,160.9 465.2,154.9 465.5,161.3 465.8,155.4 466.1,158.2 466.4,156.1 466.7,157.3 467.0,157.0 467.0,157.0 468.3,120.0 469.1,44.0 469.9,44.0 470.8,110.0 471.7,135.0 473.0,148.0 474.3,154.0 474.3,154.0 474.6,153.4 474.9,154.7 475.2,152.5 475.5,155.5 475.8,151.3 476.1,156.0 476.4,151.8 476.7,155.8 477.0,152.4 477.3,157.1 477.6,154.0 477.9,157.9 478.2,152.9 478.5,158.2 478.8,155.7 479.1,160.8 479.4,154.2 479.7,160.9 480.0,153.9 480.3,158.7 480.7,156.7 481.0,160.7 481.3,153.0 481.6,159.7 481.9,151.9 482.2,159.1 482.5,153.5 482.8,161.8 483.1,155.4 483.4,161.3 483.7,155.9 484.0,162.6 484.3,155.7 484.6,161.2 484.9,158.6 485.2,163.1 485.5,159.5 485.8,162.6 486.1,159.7 486.4,162.5 486.7,157.8 487.0,163.9 487.3,158.2 487.6,162.2 487.9,157.4 488.2,164.0 488.5,156.6 488.8,162.3 489.1,155.9 489.4,160.1 489.7,153.3 490.0,159.4 490.3,153.4 490.6,158.6 490.9,153.7 491.2,157.1 491.5,154.3 491.8,157.3 492.1,153.4 492.4,156.5 492.7,152.3 493.0,157.3 493.4,151.7 493.7,159.1 494.0,150.4 494.3,158.6 494.6,149.3 494.9,155.7 495.2,150.7 495.5,155.8 495.8,152.3 496.1,155.3 496.4,150.9 496.7,154.2 497.0,151.6 497.3,156.4 497.6,149.3 497.9,155.3 498.2,151.1 498.5,156.1 498.8,150.4 499.1,156.2 499.4,149.8 499.7,155.4 500.0,152.7 500.3,155.2 500.6,152.9 500.9,156.8 501.2,152.7 501.5,157.0 501.8,152.3 502.1,159.7 502.4,153.4 502.7,156.7 503.0,151.1 503.3,158.8 503.6,153.9 503.9,156.9 504.2,152.9 504.5,157.7 504.8,154.9 505.1,161.1 505.4,155.4 505.7,161.5 506.1,155.3 506.4,161.5 506.7,156.5 507.0,160.5 507.3,154.9 507.6,166.3 507.9,156.7 508.2,163.1 508.5,156.6 508.8,163.7 509.1,157.6 509.4,166.1 509.7,159.3 510.0,164.3 510.3,159.8 510.6,164.2 510.9,161.6 511.2,166.4 511.5,158.9 511.8,165.8 512.1,159.9 512.4,164.1 512.7,160.4 513.0,162.2 513.3,159.6 513.6,162.3 513.9,158.6 514.2,160.8 514.5,158.3 514.8,160.3 515.1,157.7 515.4,158.7 515.7,156.3 516.0,159.6 516.3,154.7 516.6,159.4 516.9,154.1 517.2,158.3 517.5,154.8 517.8,157.4 518.1,152.1 518.4,155.7 518.8,150.7 519.1,157.2 519.4,152.5 519.7,155.5 520.0,150.6 520.3,157.7 520.6,152.4 520.9,156.2 521.2,151.6 521.5,155.0 521.8,150.1 522.1,156.3 522.4,152.2 522.7,155.6 523.0,150.9 523.3,156.3 523.6,152.6 523.9,156.9 524.2,151.6 524.5,156.3 524.8,150.2 525.1,156.6 525.4,152.9 525.7,155.8 526.0,151.0 526.3,158.3 526.6,152.2 526.9,156.9 527.2,152.7 527.5,157.0 527.8,153.7 528.1,157.3 528.4,152.5 528.7,157.1 529.0,153.5 529.3,158.4 529.6,154.4 529.9,157.3 530.2,153.9 530.5,157.1 530.8,154.2 531.1,157.4 531.5,150.2 531.8,158.4 532.1,154.0 532.4,158.1 532.7,150.5 533.0,159.1 533.3,151.5 533.6,159.1 533.9,154.8 534.2,157.2 534.5,153.8 534.8,158.1 535.1,154.6 535.4,157.8 535.7,154.2 536.0,161.5 536.3,154.6 536.6,160.0 536.9,157.2 537.2,158.9 537.5,158.0 537.5,158.0 540.4,263.5 541.2,263.5 542.8,190.0 544.2,168.0 546.0,157.0 546.0,157.0 546.3,156.1 546.6,156.9 546.9,153.9 547.2,157.7 547.5,152.0 547.8,158.6 548.1,152.6 548.4,156.5 548.7,153.8 549.0,156.1 549.3,153.9 549.6,156.2 549.9,150.7 550.2,156.1 550.5,150.0 550.8,156.4 551.1,148.1 551.4,156.5 551.7,153.0 552.0,157.1 552.4,150.2 552.7,157.1 553.0,149.5 553.3,155.9 553.6,152.3 553.9,159.0 554.2,152.8 554.5,157.2 554.8,154.3 555.1,158.6 555.4,153.2 555.7,160.9 556.0,153.7 556.3,161.8 556.6,155.5 556.9,162.4 557.2,157.7 557.5,160.4 557.8,156.2 558.1,161.8 558.4,156.9 558.7,160.2 559.0,157.6 559.3,159.6 559.6,156.4 559.9,159.3 560.2,156.6 560.5,160.4 560.8,153.0 561.1,159.1 561.4,156.3 561.7,158.9 562.0,153.2 562.3,161.2 562.6,154.9 562.9,161.0 563.2,152.6 563.5,159.6 563.8,151.4 564.1,159.1 564.4,149.0 564.7,159.1 565.0,149.8 565.4,154.6 565.7,149.9 566.0,153.3 566.3,150.3 566.6,151.7 566.9,149.8 567.2,152.5 567.5,146.8 567.8,152.6 568.1,147.6 568.4,153.4 568.7,148.1 569.0,153.7 569.3,149.4 569.6,151.4 569.9,149.2 570.2,153.7 570.5,150.6 570.8,153.4 571.1,150.4 571.4,155.1 571.7,146.8 572.0,155.6 572.3,151.3 572.6,158.5 572.9,152.3 573.2,156.9 573.5,150.5 573.8,158.7 574.1,150.9 574.4,156.4 574.7,153.4 575.0,159.1 575.3,153.9 575.6,158.7 575.9,153.8 576.2,158.7 576.5,154.6 576.8,156.4 577.1,152.8 577.4,157.3 577.8,155.0 578.1,158.2 578.4,154.2 578.7,160.2 579.0,155.5 579.3,158.8 579.6,157.2 579.9,160.9 580.2,158.2 580.5,163.4 580.8,158.8 581.1,163.2 581.4,157.7 581.7,163.4 582.0,159.6 582.3,164.2 582.6,159.4 582.9,163.4 583.2,161.5 583.5,163.3 583.8,159.6 584.1,163.7 584.4,160.5 584.7,167.1 585.0,158.6 585.3,165.6 585.6,160.9 585.9,166.0 586.2,160.8 586.5,162.8 586.8,158.1 587.1,162.9 587.4,157.7 587.7,161.3 588.0,157.2 588.3,160.4 588.6,155.8 588.9,162.2 589.2,154.4 589.5,160.9 589.8,154.2 590.1,156.4 590.5,154.2 590.8,155.7 591.1,154.4 591.4,155.6 591.7,152.4 592.0,155.6 592.3,151.8 592.6,154.1 592.9,152.7 593.2,154.6 593.5,152.5 593.8,155.0 594.1,153.0 594.4,156.2 594.7,150.7 595.0,157.9 595.3,150.7 595.6,160.0 595.9,153.0 596.2,157.3 596.5,153.2 596.8,157.7 597.1,152.8 597.4,158.7 597.7,151.9 598.0,160.9 598.3,151.1 598.6,159.8 598.9,153.6 599.2,160.1 599.5,155.0 599.8,159.2 600.1,156.1 600.4,158.6 600.7,154.3 601.0,161.5 601.3,155.1 601.6,161.4 601.9,154.1 602.2,159.2 602.5,156.3 602.8,160.0 603.1,153.7 603.5,163.0 603.8,154.7 604.1,160.3 604.4,153.5 604.7,159.7 605.0,154.9 605.3,160.5 605.6,155.1 605.9,159.6 606.2,156.1 606.5,160.8 606.8,155.5 607.1,158.8 607.4,154.9 607.7,161.9 608.0,153.9 608.3,162.0 608.6,155.9 608.9,159.3 609.2,156.7 609.5,157.0 609.5,157.0 611.0,120.0 611.9,44.0 612.7,44.0 613.6,110.0 614.5,135.0 615.8,148.0 617.0,154.0 617.0,154.0 617.3,153.6 617.6,156.2 617.9,154.5 618.2,157.9 618.5,154.1 618.8,161.4 619.1,150.9 619.4,162.8 619.7,152.3 620.0,159.8 620.3,152.7 620.6,160.1 620.9,154.7 621.2,159.7 621.5,156.6 621.8,160.8 622.1,157.4 622.4,161.8 622.7,156.8 623.0,162.8 623.3,157.8 623.6,161.7 623.9,158.2 624.2,160.2 624.6,157.7 624.9,162.2 625.2,157.6 625.5,162.1 625.8,157.8 626.1,160.4 626.4,155.8 626.7,162.6 627.0,154.4 627.3,161.4 627.6,156.0 627.9,164.1 628.2,154.9 628.5,161.1 628.8,155.3 629.1,161.4 629.4,156.0 629.7,159.0 630.0,152.2 630.3,161.4 630.6,152.4 630.9,158.6 631.2,154.3 631.5,158.5 631.8,151.9 632.1,157.0 632.4,150.9 632.7,157.6 633.0,153.9 633.3,156.2 633.6,150.8 633.9,155.8 634.2,151.9 634.5,154.1 634.8,152.1 635.1,155.1 635.4,153.0 635.7,154.8 636.0,152.7 636.3,156.7 636.6,152.9 636.9,155.4 637.2,150.0 637.5,157.7 637.8,148.2 638.1,159.0 638.4,149.9 638.7,155.5 639.1,152.3 639.4,154.7 639.7,152.2 640.0,154.7 640.3,152.1 640.6,158.7 640.9,151.2 641.2,156.7 641.5,151.8 641.8,157.0 642.1,153.8 642.4,156.6 642.7,152.8 643.0,157.8 643.3,153.1 643.6,157.6 643.9,152.7 644.2,156.7 644.5,154.3 644.8,157.5 645.1,153.0 645.4,159.2 645.7,154.5 646.0,160.9 646.3,155.1 646.6,159.3 646.9,154.9 647.2,158.2 647.5,156.2 647.8,159.6 648.1,154.7 648.4,160.5 648.7,155.7 649.0,158.9 649.3,157.4 649.6,162.0 649.9,157.5 650.2,160.7 650.5,155.2 650.8,161.1 651.1,154.6 651.4,163.2 651.7,156.8 652.0,162.3 652.3,157.5 652.6,163.5 652.9,158.9 653.2,161.5 653.5,158.2 653.9,162.0 654.2,158.2 654.5,161.0 654.8,157.1 655.1,161.9 655.4,155.4 655.7,162.4 656.0,156.5 656.3,160.5 656.6,155.5 656.9,160.6 657.2,156.2 657.5,158.7 657.8,155.0 658.1,158.9 658.4,152.7 658.7,158.1 659.0,151.5 659.3,157.6 659.6,153.1 659.9,154.7 660.2,149.9 660.5,155.2 660.8,151.1 661.1,158.0 661.4,151.6 661.7,154.5 662.0,147.7 662.3,157.5 662.6,149.9 662.9,154.5 663.2,149.4 663.5,153.5 663.8,150.0 664.1,154.4 664.4,149.8 664.7,154.8 665.0,150.5 665.3,156.3 665.6,150.2 665.9,154.6 666.2,152.6 666.5,154.8 666.8,153.9 667.1,156.4 667.4,152.6 667.7,156.2 668.0,151.8 668.4,157.8 668.7,150.2 669.0,157.9 669.3,153.7 669.6,159.9 669.9,152.6 670.2,157.4 670.5,151.7 670.8,156.2 671.1,153.7 671.4,157.4 671.7,153.9 672.0,157.5 672.3,153.6 672.6,158.0 672.9,155.4 673.2,159.3 673.5,154.2 673.8,158.5 674.1,154.4 674.4,160.1 674.7,155.2 675.0,157.3 675.3,156.2 675.6,156.4" stroke="#0000ff" />
<path d="M74.6,49.0 74.9,49.2 75.2,51.6 75.5,50.3 75.8,53.3 76.1,49.6 76.4,54.2 76.7,50.5 77.0,55.6 77.3,50.7 77.6,57.7 78.0,52.6 78.3,59.2 78.6,57.3 78.9,61.5 79.2,59.4 79.5,63.8 79.8,61.9 80.1,65.5 80.4,63.8 80.7,68.5 81.0,66.1 81.3,70.0 81.6,67.7 81.9,70.7 82.2,68.0 82.5,75.3 82.8,70.8 83.1,75.5 83.4,73.1 83.7,75.8 84.0,72.6 84.3,79.8 84.7,75.4 85.0,81.2 85.3,77.3 85.6,83.3 85.9,76.5 86.2,83.5 86.5,78.9 86.8,85.8 87.1,83.7 87.4,86.2 87.7,85.4 88.0,88.4 88.3,88.2 88.6,90.3 88.9,89.5 89.2,92.8 89.5,91.7 89.8,95.2 90.1,93.5 90.4,98.1 90.7,95.4 91.0,98.6 91.4,96.2 91.7,101.7 92.0,97.2 92.3,104.7 92.6,100.4 92.9,103.8 93.2,99.9 93.5,103.1 93.8,100.5 94.1,103.3 94.4,98.9 94.7,102.9 95.0,97.4 95.3,102.7 95.6,97.4 95.9,100.6 96.2,93.8 96.5,98.9 96.8,93.6 97.1,97.7 97.4,93.2 97.7,94.1 98.1,90.4 98.4,93.3 98.7,89.3 99.0,93.2 99.3,85.8 99.6,91.8 99.9,86.0 100.2,89.5 100.5,83.6 100.8,87.1 101.1,84.6 101.4,86.3 101.7,84.0 102.0,86.3 102.3,82.1 102.6,86.3 102.9,80.1 103.2,85.6 103.5,80.9 103.8,83.8 104.1,79.0 104.4,83.6 104.8,80.0 105.1,82.8 105.4,79.2 105.7,81.7 106.0,79.0 106.3,81.6 106.6,79.3 106.9,81.8 107.2,80.3 107.5,81.5 107.8,81.0 107.8,81.0 109.3,88.0 110.2,130.0 111.0,245.0 113.0,249.0 113.0,249.0 113.3,249.0 113.6,250.4 113.9,248.7 114.2,251.2 114.5,249.4 114.8,252.0 115.1,249.5 115.4,253.2 115.7,249.8 116.0,252.7 116.3,250.2 116.6,252.8 116.9,248.7 117.2,253.4 117.5,249.0 117.8,253.1 118.1,251.3 118.4,253.5 118.7,250.7 119.0,254.5 119.3,251.6 119.6,256.5 119.9,252.3 120.2,256.9 120.5,252.9 120.8,260.1 121.1,252.3 121.4,258.2 121.7,253.1 122.0,257.9 122.3,255.8 122.6,258.0 122.9,255.5 123.2,259.2 123.5,255.6 123.9,259.9 124.2,256.6 124.5,259.1 124.8,256.5 125.1,258.4 125.4,255.7 125.7,257.8 126.0,255.3 126.3,257.1 126.6,253.7 126.9,256.9 127.2,250.6 127.5,253.6 127.8,250.2 128.1,252.7 128.4,246.5 128.7,250.3 129.0,246.7 129.3,249.7 129.6,244.7 129.9,246.7 130.2,242.7 130.5,244.0 130.8,239.2 131.1,242.7 131.4,234.7 131.7,242.3 132.0,234.2 132.3,240.4 132.6,232.8 132.9,237.5 133.2,229.9 133.5,237.7 133.8,228.9 134.1,234.1 134.4,230.2 134.7,234.2 135.0,228.9 135.3,230.1 135.6,225.9 135.9,230.2 136.2,223.6 136.5,227.9 136.8,225.3 137.1,227.2 137.4,224.6 137.7,227.7 138.0,226.1 138.3,229.7 138.6,223.9 138.9,228.1 139.2,224.7 139.5,230.0 139.8,225.8 140.1,230.9 140.4,225.5 140.7,232.2 141.0,228.5 141.3,233.0 141.6,230.8 141.9,235.5 142.2,232.8 142.5,237.5 142.8,234.2 143.1,237.8 143.4,235.7 143.7,239.5 144.0,235.8 144.3,243.2 144.6,238.7 144.9,244.3 145.2,242.2 145.6,245.1 145.9,243.8 146.2,248.3 146.5,246.6 146.8,250.4 147.1,249.9 147.4,252.9 147.7,250.4 148.0,257.1 148.3,251.3 148.6,258.4 148.9,253.8 149.2,258.7 149.5,256.7 149.8,261.1 150.1,258.0 150.4,261.5 150.7,259.1 151.0,264.1 151.3,258.2 151.6,263.1 151.9,261.0 152.2,265.9 152.5,262.3 152.8,266.2 153.1,263.6 153.4,267.0 153.7,264.3 154.0,266.8 154.3,264.1 154.6,268.0 154.9,265.1 155.2,268.1 155.5,265.7 155.8,268.7 156.1,265.7 156.4,267.9 156.7,266.6 157.0,269.0 157.3,266.7 157.6,270.6 157.9,266.4 158.2,272.2 158.5,266.7 158.8,272.8 159.1,267.6 159.4,271.6 159.7,269.1 160.0,272.0 160.3,268.9 160.6,272.0 160.9,268.4 161.2,273.0 161.5,267.9 161.8,273.5 162.1,268.4 162.4,272.4 162.7,266.9 163.0,273.6 163.3,267.7 163.6,272.8 163.9,271.2 164.2,272.4 164.5,270.3 164.8,274.1 165.1,270.7 165.4,275.7 165.7,269.4 166.0,275.6 166.3,273.0 166.6,275.3 167.0,272.1 167.3,276.0 167.6,271.7 167.9,275.6 168.2,272.4 168.5,277.6 168.8,273.0 169.1,276.1 169.4,273.1 169.7,278.4 170.0,272.9 170.3,278.6 170.6,274.7 170.9,277.5 171.2,274.5 171.5,280.0 171.8,274.0 172.1,283.5 172.4,277.0 172.7,281.3 173.0,276.3 173.3,281.2 173.6,278.4 173.9,280.5 174.2,279.2 174.5,281.3 174.8,279.4 175.1,281.9 175.4,277.9 175.7,281.0 176.0,279.5 176.3,281.3 176.6,279.3 176.9,281.1 177.2,279.9 177.5,280.0 177.5,280.0 178.8,270.0 180.0,150.0 181.5,95.0 183.5,75.0 185.5,69.5 185.5,69.5 185.8,69.0 186.1,70.8 186.4,67.8 186.7,71.8 187.0,63.9 187.3,71.8 187.6,65.2 187.9,69.8 188.2,65.0 188.5,69.7 188.8,67.6 189.1,70.9 189.4,67.6 189.7,71.0 190.0,68.6 190.3,73.4 190.6,69.8 190.9,72.5 191.2,71.0 191.5,74.2 191.8,72.5 192.2,74.9 192.5,72.2 192.8,76.5 193.1,74.0 193.4,76.5 193.7,75.7 194.0,77.5 194.3,77.4 194.6,79.4 194.9,77.6 195.2,80.5 195.5,79.0 195.8,81.4 196.1,78.7 196.4,83.5 196.7,79.7 197.0,85.1 197.3,80.4 197.6,85.8 197.9,80.9 198.2,84.2 198.5,82.0 198.8,85.7 199.1,83.9 199.4,88.4 199.7,83.4 200.0,91.2 200.3,87.1 200.6,90.8 200.9,86.0 201.2,92.6 201.5,89.6 201.8,94.8 202.1,90.7 202.4,94.9 202.7,92.0 203.0,95.7 203.3,93.6 203.6,96.0 203.9,92.7 204.2,98.5 204.5,94.7 204.8,97.8 205.2,94.0 205.5,99.1 205.8,91.6 206.1,97.2 206.4,91.5 206.7,96.8 207.0,90.4 207.3,95.4 207.6,86.6 207.9,92.3 208.2,85.7 208.5,90.6 208.8,86.0 209.1,88.4 209.4,82.7 209.7,85.8 210.0,81.8 210.3,84.2 210.6,79.7 210.9,81.8 211.2,76.8 211.5,82.9 211.8,75.7 212.1,79.6 212.4,74.4 212.7,78.4 213.0,72.6 213.3,76.5 213.6,70.9 213.9,74.6 214.2,71.8 214.5,74.3 214.8,68.6 215.1,71.8 215.4,68.5 215.7,73.3 216.0,66.6 216.3,70.7 216.6,65.0 216.9,70.0 217.2,66.7 217.5,68.5 217.8,66.4 218.2,68.8 218.5,66.6 218.8,68.8 219.1,66.5 219.4,68.5 219.7,66.3 220.0,69.0 220.3,65.0 220.6,70.4 220.9,64.6 221.2,69.6 221.5,66.6 221.8,68.6 222.1,66.9 222.4,69.6 222.7,67.1 223.0,71.0 223.3,68.6 223.6,72.5 223.9,69.8 224.2,75.1 224.5,69.6 224.8,75.4 225.1,72.1 225.4,77.8 225.7,74.6 226.0,81.0 226.3,75.7 226.6,81.8 226.9,77.2 227.2,83.4 227.5,80.6 227.8,85.1 228.1,82.5 228.4,87.2 228.7,83.9 229.0,88.2 229.3,86.2 229.6,88.6 229.9,87.4 230.2,91.9 230.5,87.4 230.9,92.0 231.2,89.8 231.5,93.2 231.8,90.3 232.1,94.7 232.4,91.2 232.7,96.7 233.0,89.8 233.3,96.7 233.6,88.7 233.9,93.5 234.2,87.8 234.5,93.1 234.8,89.3 235.1,91.5 235.4,87.0 235.7,91.1 236.0,87.1 236.3,90.5 236.6,85.8 236.9,91.2 237.2,83.2 237.5,89.3 237.8,82.6 238.1,87.0 238.4,82.1 238.7,84.8 239.0,80.5 239.3,83.5 239.6,79.5 239.9,81.1 240.2,79.2 240.5,80.4 240.8,76.7 241.1,80.3 241.4,76.9 241.7,81.1 242.0,73.4 242.3,80.3 242.6,73.6 242.9,78.4 243.2,74.3 243.5,76.1 243.9,73.1 244.2,75.1 244.5,71.2 244.8,75.8 245.1,67.3 245.4,72.0 245.7,67.2 246.0,70.9 246.3,68.1 246.6,69.8 246.9,68.0 247.2,70.8 247.5,67.3 247.8,71.9 248.1,65.3 248.4,71.6 248.7,67.9 249.0,71.5 249.3,69.1 249.6,70.1 249.9,69.4 250.2,69.6 250.2,69.6 251.2,80.0 252.0,150.0 253.5,245.0 257.0,249.4 257.0,249.4 257.3,249.1 257.6,250.7 257.9,249.3 258.2,251.5 258.5,249.4 258.8,252.6 259.1,249.6 259.4,252.1 259.7,250.3 260.0,254.8 260.3,250.1 260.6,253.4 260.9,248.9 261.2,253.3 261.5,247.0 261.8,253.9 262.1,248.7 262.4,253.9 262.7,248.7 263.0,252.7 263.3,249.7 263.6,252.9 263.9,248.4 264.2,251.6 264.5,247.9 264.9,253.3 265.2,248.7 265.5,252.0 265.8,249.9 266.1,252.6 266.4,248.7 266.7,252.4 267.0,249.0 267.3,252.8 267.6,248.3 267.9,250.2 268.2,247.8 268.5,250.0 268.8,246.5 269.1,249.3 269.4,244.7 269.7,249.3 270.0,243.3 270.3,247.1 270.6,241.9 270.9,245.4 271.2,241.1 271.5,243.1 271.8,239.1 272.1,242.2 272.4,237.4 272.7,240.2 273.0,235.6 273.3,237.9 273.6,233.9 273.9,236.3 274.2,232.8 274.5,235.0 274.8,230.4 275.1,234.1 275.4,225.1 275.7,232.8 276.0,225.3 276.3,231.2 276.6,225.6 276.9,228.4 277.2,222.8 277.5,226.1 277.8,221.8 278.1,224.6 278.4,219.2 278.7,222.7 279.0,218.1 279.3,220.9 279.6,217.4 279.9,219.7 280.2,216.3 280.6,221.2 280.9,215.7 281.2,221.0 281.5,215.7 281.8,220.5 282.1,216.7 282.4,218.9 282.7,217.5 283.0,218.5 283.3,216.1 283.6,218.0 283.9,216.4 284.2,219.0 284.5,216.3 284.8,218.7 285.1,217.2 285.4,218.8 285.7,215.8 286.0,220.6 286.3,215.6 286.6,223.0 286.9,216.8 287.2,222.4 287.5,219.6 287.8,224.9 288.1,222.5 288.4,226.1 288.7,224.8 289.0,230.5 289.3,226.8 289.6,233.0 289.9,228.5 290.2,233.8 290.5,232.8 290.8,235.9 291.1,235.0 291.4,240.5 291.7,236.1 292.0,240.7 292.3,239.9 292.6,242.6 292.9,242.0 293.2,244.7 293.5,243.8 293.8,247.6 294.1,244.7 294.4,250.3 294.7,247.1 295.0,250.1 295.3,246.8 295.6,250.9 295.9,249.2 296.2,251.1 296.6,248.4 296.9,250.7 297.2,248.7 297.5,250.0 297.8,248.3 298.1,249.4 298.4,247.4 298.7,253.1 299.0,247.0 299.3,253.7 299.6,248.1 299.9,252.1 300.2,246.3 300.5,252.6 300.8,247.3 301.1,254.6 301.4,247.5 301.7,253.8 302.0,250.4 302.3,253.2 302.6,249.9 302.9,255.1 303.2,253.1 303.5,258.8 303.8,253.7 304.1,259.5 304.4,256.1 304.7,258.7 305.0,256.5 305.3,261.0 305.6,257.6 305.9,262.8 306.2,260.1 306.5,262.5 306.8,259.4 307.1,265.3 307.4,261.5 307.7,265.2 308.0,262.6 308.3,265.4 308.6,264.4 308.9,267.5 309.2,265.4 309.5,267.5 309.8,265.6 310.1,270.1 310.4,266.6 310.7,270.5 311.0,266.4 311.3,269.2 311.6,267.8 311.9,270.6 312.3,267.1 312.6,272.0 312.9,268.0 313.2,272.5 313.5,266.8 313.8,272.6 314.1,266.1 314.4,271.5 314.7,267.2 315.0,272.8 315.3,266.8 315.6,272.5 315.9,269.5 316.2,271.2 316.5,268.4 316.8,272.2 317.1,267.5 317.4,272.4 317.7,268.1 318.0,273.8 318.3,268.9 318.6,272.1 318.9,269.9 319.2,272.1 319.5,271.6 319.8,272.1 319.8,272.1 321.5,270.0 322.8,150.0 324.3,100.0 326.0,85.0 327.5,78.0 327.5,78.0 327.8,76.9 328.1,78.3 328.4,75.2 328.7,78.9 329.0,74.9 329.3,77.7 329.6,73.3 329.9,76.1 330.2,73.8 330.5,77.2 330.8,71.3 331.1,76.9 331.4,70.7 331.7,78.8 332.0,71.0 332.3,79.6 332.6,72.0 332.9,76.8 333.2,74.0 333.5,79.2 333.8,74.6 334.1,80.3 334.4,73.6 334.7,80.5 335.0,76.0 335.3,78.7 335.6,73.9 335.9,81.4 336.2,73.4 336.5,80.1 336.8,74.3 337.1,79.1 337.4,75.0 337.7,79.5 338.0,76.6 338.3,80.3 338.7,77.2 339.0,80.5 339.3,79.0 339.6,81.6 339.9,79.2 340.2,83.4 340.5,79.0 340.8,84.3 341.1,80.1 341.4,84.9 341.7,81.8 342.0,87.2 342.3,83.9 342.6,88.0 342.9,85.5 343.2,89.4 343.5,83.9 343.8,89.5 344.1,86.0 344.4,90.0 344.7,85.6 345.0,90.3 345.3,86.4 345.6,92.4 345.9,87.3 346.2,92.6 346.5,88.7 346.8,91.5 347.1,88.9 347.4,91.7 347.7,89.1 348.0,91.9 348.3,88.6 348.6,92.7 348.9,87.9 349.2,93.3 349.5,86.1 349.8,92.3 350.1,87.7 350.4,89.9 350.7,86.0 351.0,89.4 351.3,83.8 351.6,87.7 351.9,81.1 352.2,84.1 352.5,79.3 352.8,83.5 353.1,78.4 353.4,84.4 353.7,77.1 354.0,79.4 354.3,74.1 354.6,78.9 354.9,71.0 355.2,76.3 355.5,69.9 355.8,73.0 356.1,68.6 356.4,69.1 356.7,65.8 357.0,67.2 357.3,63.6 357.6,65.9 357.9,62.0 358.2,65.2 358.5,62.3 358.8,63.1 359.1,61.1 359.4,64.0 359.7,59.6 360.0,62.8 360.3,58.9 360.6,61.8 361.0,57.3 361.3,63.5 361.6,56.4 361.9,61.6 362.2,58.8 362.5,60.2 362.8,56.7 363.1,60.8 363.4,57.5 363.7,62.9 364.0,58.3 364.3,61.7 364.6,59.9 364.9,63.6 365.2,60.6 365.5,64.4 365.8,60.3 366.1,67.7 366.4,62.1 366.7,69.7 367.0,64.8 367.3,68.7 367.6,65.8 367.9,72.7 368.2,67.3 368.5,73.4 368.8,71.8 369.1,75.0 369.4,74.3 369.7,77.1 370.0,74.0 370.3,79.4 370.6,76.1 370.9,84.0 371.2,78.9 371.5,85.2 371.8,80.7 372.1,85.0 372.4,83.2 372.7,87.0 373.0,83.9 373.3,89.6 373.6,82.7 373.9,91.2 374.2,86.8 374.5,91.3 374.8,86.0 375.1,91.1 375.4,87.4 375.7,93.8 376.0,85.5 376.3,91.5 376.6,85.1 376.9,91.8 377.2,87.0 377.5,89.7 377.8,84.4 378.1,88.0 378.4,85.2 378.7,88.4 379.0,83.2 379.3,86.4 379.6,82.1 379.9,83.7 380.2,79.6 380.5,83.0 380.8,78.7 381.1,83.1 381.4,77.4 381.7,81.9 382.0,76.3 382.3,82.2 382.6,74.9 382.9,81.6 383.3,73.4 383.6,79.3 383.9,72.5 384.2,77.6 384.5,73.0 384.8,74.9 385.1,72.5 385.4,73.1 385.7,71.4 386.0,73.9 386.3,68.0 386.6,72.9 386.9,67.1 387.2,71.0 387.5,68.2 387.8,69.9 388.1,68.3 388.4,70.3 388.7,65.8 389.0,70.4 389.3,65.4 389.6,70.4 389.9,63.8 390.2,70.3 390.5,61.8 390.8,66.4 391.1,63.0 391.4,66.6 391.7,63.0 392.0,65.8 392.3,63.8 392.6,67.3 392.9,62.9 393.2,67.5 393.5,65.9 393.8,67.5 394.1,67.5 394.1,67.5 395.0,80.0 395.7,150.0 397.0,247.0 399.1,251.0 399.1,252.0 399.4,251.7 399.7,252.8 400.0,250.7 400.3,253.0 400.6,250.8 400.9,252.9 401.2,249.9 401.5,253.1 401.8,250.1 402.1,253.2 402.4,250.0 402.7,253.7 403.0,251.0 403.3,254.0 403.6,249.6 403.9,253.7 404.2,248.9 404.5,256.1 404.9,248.0 405.2,252.7 405.5,251.0 405.8,252.4 406.1,250.0 406.4,252.9 406.7,248.5 407.0,253.8 407.3,250.0 407.6,252.7 407.9,248.6 408.2,252.2 408.5,250.0 408.8,253.2 409.1,247.7 409.4,253.0 409.7,247.9 410.0,252.3 410.3,246.8 410.6,250.7 410.9,246.2 411.2,248.9 411.5,245.0 411.8,250.3 412.1,245.3 412.4,249.3 412.7,242.9 413.0,248.1 413.3,243.0 413.6,246.1 413.9,242.5 414.2,244.8 414.5,242.7 414.8,243.8 415.1,239.9 415.4,241.3 415.8,238.4 416.1,238.3 416.4,235.2 416.7,236.3 417.0,231.7 417.3,233.1 417.6,228.6 417.9,231.6 418.2,224.6 418.5,227.6 418.8,221.9 419.1,224.3 419.4,220.8 419.7,222.8 420.0,219.0 420.3,222.3 420.6,217.8 420.9,221.4 421.2,216.6 421.5,218.4 421.8,216.6 422.1,217.7 422.4,214.5 422.7,216.5 423.0,213.7 423.3,215.7 423.6,211.8 423.9,213.7 424.2,212.2 424.5,214.4 424.8,211.5 425.1,214.4 425.4,209.1 425.7,213.3 426.0,210.2 426.3,215.0 426.7,208.1 427.0,217.0 427.3,207.9 427.6,216.0 427.9,210.0 428.2,217.4 428.5,211.9 428.8,219.3 429.1,213.1 429.4,218.9 429.7,215.6 430.0,219.3 430.3,216.0 430.6,221.3 430.9,217.6 431.2,222.3 431.5,219.3 431.8,225.7 432.1,220.5 432.4,228.1 432.7,221.2 433.0,228.8 433.3,224.8 433.6,231.4 433.9,225.7 434.2,231.3 434.5,229.2 434.8,233.5 435.1,230.5 435.4,236.3 435.7,230.6 436.0,238.5 436.3,232.8 436.6,240.6 436.9,235.8 437.2,240.5 437.6,238.9 437.9,242.2 438.2,240.8 438.5,243.7 438.8,242.0 439.1,246.3 439.4,242.9 439.7,246.6 440.0,245.5 440.3,247.3 440.6,245.7 440.9,248.2 441.2,246.5 441.5,250.9 441.8,246.8 442.1,249.8 442.4,245.5 442.7,249.1 443.0,245.7 443.3,251.7 443.6,246.3 443.9,249.5 444.2,248.1 444.5,250.5 444.8,248.0 445.1,251.0 445.4,248.7 445.7,251.8 446.0,247.0 446.3,253.4 446.6,248.6 446.9,252.6 447.2,248.2 447.5,252.9 447.8,249.3 448.1,254.0 448.5,251.1 448.8,254.8 449.1,252.1 449.4,256.2 449.7,253.6 450.0,259.8 450.3,253.9 450.6,258.5 450.9,256.3 451.2,261.2 451.5,257.8 451.8,261.7 452.1,257.5 452.4,263.0 452.7,259.6 453.0,262.9 453.3,259.5 453.6,264.3 453.9,260.7 454.2,263.9 454.5,259.1 454.8,263.8 455.1,260.8 455.4,265.1 455.7,260.9 456.0,266.1 456.3,261.0 456.6,267.4 456.9,262.0 457.2,265.7 457.5,264.5 457.8,267.0 458.1,264.1 458.4,268.5 458.7,264.2 459.0,269.6 459.4,264.4 459.7,270.1 460.0,265.3 460.3,271.4 460.6,263.7 460.9,271.4 461.2,265.6 461.5,270.1 461.8,265.1 462.1,270.3 462.4,265.3 462.7,270.2 463.0,264.2 463.3,270.3 463.6,266.3 463.9,270.2 464.2,267.2 464.5,269.1 464.8,268.5 464.8,268.5 466.5,266.0 467.7,150.0 469.2,92.0 470.3,80.0 472.0,75.0 472.0,75.0 472.3,74.4 472.6,74.9 472.9,72.6 473.2,75.6 473.5,72.2 473.8,75.4 474.1,72.7 474.4,75.5 474.7,72.2 475.0,75.0 475.3,71.5 475.6,75.0 475.9,72.4 476.2,76.6 476.5,70.7 476.8,77.6 477.1,72.2 477.4,76.6 477.7,70.4 478.0,77.8 478.3,72.7 478.6,76.4 478.9,73.5 479.2,77.8 479.5,75.3 479.8,77.2 480.1,75.9 480.4,79.3 480.7,74.1 481.0,80.7 481.3,76.0 481.6,83.2 481.9,75.9 482.2,82.5 482.5,76.7 482.8,80.4 483.2,77.8 483.5,81.3 483.8,79.3 484.1,81.3 484.4,77.7 484.7,83.4 485.0,78.7 485.3,84.8 485.6,79.1 485.9,83.0 486.2,79.7 486.5,85.2 486.8,81.3 487.1,85.5 487.4,81.0 487.7,85.4 488.0,82.6 488.3,87.2 488.6,82.6 488.9,87.6 489.2,83.8 489.5,86.1 489.8,83.5 490.1,86.6 490.4,85.5 490.7,89.1 491.0,86.1 491.3,91.3 491.6,88.2 491.9,90.4 492.2,87.7 492.5,91.4 492.8,89.0 493.1,91.7 493.4,88.5 493.7,92.9 494.0,87.6 494.3,91.4 494.6,86.7 494.9,88.9 495.2,84.6 495.5,85.6 495.8,82.4 496.1,83.7 496.4,79.1 496.7,81.3 497.0,76.8 497.3,81.8 497.6,73.9 497.9,76.5 498.2,69.9 498.5,74.1 498.8,69.5 499.1,74.6 499.4,67.0 499.7,73.5 500.0,66.2 500.3,71.4 500.6,63.6 500.9,70.0 501.2,64.8 501.5,71.2 501.8,63.3 502.1,70.2 502.4,64.4 502.7,67.1 503.0,63.1 503.3,65.3 503.6,63.0 503.9,66.3 504.2,62.7 504.5,64.9 504.8,60.9 505.2,62.9 505.5,60.2 505.8,64.0 506.1,58.7 506.4,63.9 506.7,58.0 507.0,63.4 507.3,56.5 507.6,63.2 507.9,57.5 508.2,61.0 508.5,58.3 508.8,62.7 509.1,60.6 509.4,65.3 509.7,59.2 510.0,64.3 510.3,63.5 510.6,65.6 510.9,63.7 511.2,67.0 511.5,65.7 511.8,70.8 512.1,62.5 512.4,69.9 512.7,65.6 513.0,73.5 513.3,68.7 513.6,73.7 513.9,69.2 514.2,76.6 514.5,70.7 514.8,76.2 515.1,73.5 515.4,77.9 515.7,77.0 516.0,78.9 516.3,78.6 516.6,81.3 516.9,78.7 517.2,84.6 517.5,80.8 517.8,87.8 518.1,83.2 518.4,88.2 518.7,83.3 519.0,89.5 519.3,84.6 519.6,88.5 519.9,84.8 520.2,89.8 520.5,83.6 520.8,88.1 521.1,83.9 521.4,86.1 521.7,83.0 522.0,85.6 522.3,83.2 522.6,83.3 522.9,81.2 523.2,82.9 523.5,80.2 523.8,81.7 524.1,77.6 524.4,81.2 524.7,77.4 525.0,79.7 525.3,76.8 525.6,79.5 525.9,76.2 526.2,79.3 526.5,74.0 526.8,78.1 527.2,73.6 527.5,76.6 527.8,72.3 528.1,75.9 528.4,70.7 528.7,74.7 529.0,69.1 529.3,73.0 529.6,68.3 529.9,73.5 530.2,68.1 530.5,71.1 530.8,68.2 531.1,69.9 531.4,67.1 531.7,71.1 532.0,65.4 532.3,70.8 532.6,65.7 532.9,70.5 533.2,65.3 533.5,67.5 533.8,64.4 534.1,66.9 534.4,64.3 534.7,67.2 535.0,63.1 535.3,66.8 535.6,63.3 535.9,68.7 536.2,63.7 536.5,66.6 536.8,64.5 537.1,66.8 537.4,65.3 537.7,66.4 538.0,66.0 538.0,66.0 539.0,75.0 539.5,150.0 541.6,247.0 543.6,249.5 543.6,250.5 543.9,250.0 544.2,251.3 544.5,249.8 544.8,251.7 545.1,248.5 545.4,252.7 545.7,249.4 546.0,252.2 546.3,248.6 546.6,253.0 546.9,248.7 547.2,252.5 547.5,246.3 547.8,252.2 548.1,246.0 548.4,252.4 548.7,248.1 549.0,251.7 549.3,247.0 549.6,250.4 549.9,248.4 550.2,252.4 550.5,248.4 550.8,252.4 551.1,248.4 551.4,252.3 551.7,247.6 552.0,253.5 552.3,247.0 552.6,252.2 552.9,246.1 553.2,254.5 553.5,247.4 553.8,252.3 554.1,246.9 554.5,250.7 554.8,245.9 555.1,249.7 555.4,246.6 555.7,249.4 556.0,247.2 556.3,249.5 556.6,246.5 556.9,249.2 557.2,245.0 557.5,248.5 557.8,245.1 558.1,246.2 558.4,243.0 558.7,244.9 559.0,241.4 559.3,242.3 559.6,238.5 559.9,240.9 560.2,235.8 560.5,236.7 560.8,231.2 561.1,234.5 561.4,230.9 561.7,233.6 562.0,225.7 562.3,232.5 562.6,226.1 562.9,229.1 563.2,224.4 563.5,225.6 563.8,222.7 564.1,224.9 564.4,220.2 564.7,223.8 565.0,218.6 565.3,220.6 565.6,217.4 565.9,218.6 566.2,215.2 566.5,217.1 566.8,214.0 567.1,216.2 567.4,210.6 567.7,215.3 568.0,209.5 568.3,214.4 568.6,210.1 568.9,216.3 569.2,208.5 569.5,214.1 569.8,211.2 570.1,216.1 570.4,208.6 570.7,216.3 571.0,210.6 571.3,218.5 571.6,210.3 571.9,218.0 572.2,214.8 572.5,217.9 572.8,213.1 573.1,219.6 573.4,215.5 573.7,222.7 574.0,215.0 574.3,223.8 574.6,219.3 574.9,227.3 575.2,219.9 575.5,227.8 575.9,222.3 576.2,228.6 576.5,226.0 576.8,229.0 577.1,225.6 577.4,230.3 577.7,229.7 578.0,233.9 578.3,229.9 578.6,235.3 578.9,233.6 579.2,236.8 579.5,234.5 579.8,238.7 580.1,236.2 580.4,241.1 580.7,239.0 581.0,242.3 581.3,240.7 581.6,243.5 581.9,240.6 582.2,245.9 582.5,241.7 582.8,247.5 583.1,241.7 583.4,248.7 583.7,242.1 584.0,248.7 584.3,243.2 584.6,249.7 584.9,245.9 585.2,248.4 585.5,247.1 585.8,249.8 586.1,245.6 586.4,249.3 586.7,246.4 587.0,249.4 587.3,247.2 587.6,250.0 587.9,246.6 588.2,249.3 588.5,247.6 588.8,250.7 589.1,247.2 589.4,250.2 589.7,247.2 590.0,253.0 590.3,248.7 590.6,252.1 590.9,248.4 591.2,252.7 591.5,248.6 591.8,255.8 592.1,250.2 592.4,254.4 592.7,251.7 593.0,254.3 593.3,251.2 593.6,256.4 593.9,252.5 594.2,257.2 594.5,253.0 594.8,257.3 595.1,255.2 595.4,258.5 595.7,253.6 596.0,259.9 596.3,256.6 596.6,260.0 596.9,257.6 597.2,260.6 597.6,257.7 597.9,260.8 598.2,257.2 598.5,263.3 598.8,258.7 599.1,261.8 599.4,259.7 599.7,264.9 600.0,258.5 600.3,263.2 600.6,260.4 600.9,264.5 601.2,259.3 601.5,264.8 601.8,258.9 602.1,265.4 602.4,260.8 602.7,266.0 603.0,260.9 603.3,265.7 603.6,262.2 603.9,266.5 604.2,262.6 604.5,265.9 604.8,264.0 605.1,268.6 605.4,265.1 605.7,269.4 606.0,264.3 606.3,268.0 606.6,264.3 606.9,268.6 607.2,265.5 607.5,268.5 607.8,267.3 608.1,267.5 608.1,267.5 609.2,265.0 610.0,150.0 611.5,90.0 614.0,75.0 614.0,75.0 614.3,74.7 614.6,76.5 614.9,74.3 615.2,77.9 615.5,72.8 615.8,79.7 616.1,74.2 616.4,78.5 616.7,76.5 617.0,78.6 617.3,77.0 617.6,79.6 617.9,77.3 618.2,79.9 618.5,78.0 618.8,80.7 619.1,78.6 619.4,81.3 619.7,79.5 620.0,82.1 620.4,78.4 620.7,82.6 621.0,80.4 621.3,85.2 621.6,80.8 621.9,85.0 622.2,82.5 622.5,84.0 622.8,81.4 623.1,84.4 623.4,81.9 623.7,84.9 624.0,81.3 624.3,84.9 624.6,83.0 624.9,85.4 625.2,82.2 625.5,86.3 625.8,81.5 626.1,85.5 626.4,81.0 626.7,85.2 627.0,82.2 627.3,87.2 627.6,83.1 627.9,87.1 628.2,83.4 628.5,87.2 628.8,84.2 629.1,88.8 629.4,82.8 629.7,87.0 630.0,81.1 630.3,88.6 630.6,82.5 630.9,89.8 631.2,80.1 631.5,86.6 631.8,82.7 632.1,86.8 632.4,82.3 632.8,88.4 633.1,82.7 633.4,88.4 633.7,82.0 634.0,87.3 634.3,84.8 634.6,85.6 634.9,83.8 635.2,85.8 635.5,83.5 635.8,85.2 636.1,83.5 636.4,85.9 636.7,82.8 637.0,86.3 637.3,81.4 637.6,84.7 637.9,82.3 638.2,84.6 638.5,82.4 638.8,85.8 639.1,81.4 639.4,85.5 639.7,80.7 640.0,84.4 640.3,79.2 640.6,84.3 640.9,79.9 641.2,86.2 641.5,81.2 641.8,84.2 642.1,80.6 642.4,83.7 642.7,79.8 643.0,84.1 643.3,79.8 643.6,83.1 643.9,81.2 644.2,84.7 644.5,81.6 644.8,85.0 645.2,81.2 645.5,85.3 645.8,79.0 646.1,82.7 646.4,79.2 646.7,83.4 647.0,78.8 647.3,83.8 647.6,78.8 647.9,83.0 648.2,78.5 648.5,81.7 648.8,78.7 649.1,80.8 649.4,78.0 649.7,80.4 650.0,76.6 650.3,81.4 650.6,75.4 650.9,81.4 651.2,75.9 651.5,80.3 651.8,77.7 652.1,81.2 652.4,78.6 652.7,81.0 653.0,76.8 653.3,81.1 653.6,77.9 653.9,81.5 654.2,77.8 654.5,83.2 654.8,75.8 655.1,81.4 655.4,78.5 655.7,82.0 656.0,74.9 656.3,81.0 656.6,77.6 656.9,81.4 657.2,77.1 657.6,79.5 657.9,76.4 658.2,79.1 658.5,76.5 658.8,80.4 659.1,73.6 659.4,79.1 659.7,76.1 660.0,78.6 660.3,76.5 660.6,78.2 660.9,75.3 661.2,78.6 661.5,75.0 661.8,78.4 662.1,74.2 662.4,78.9 662.7,74.6 663.0,78.2 663.3,73.7 663.6,79.3 663.9,74.9 664.2,80.5 664.5,75.2 664.8,79.1 665.1,74.4 665.4,79.6 665.7,73.9 666.0,78.8 666.3,73.3 666.6,77.4 666.9,73.8 667.2,79.0 667.5,70.1 667.8,76.0 668.1,71.2 668.4,75.3 668.7,71.6 669.0,74.4 669.3,70.5 669.6,74.4 670.0,70.1 670.3,76.5 670.6,68.7 670.9,72.9 671.2,68.7 671.5,71.8 671.8,68.0 672.1,70.1 672.4,66.9 672.7,72.3 673.0,65.5 673.3,69.0 673.6,65.8 673.9,69.2 674.2,64.8 674.5,67.9 674.8,64.0 675.1,65.7 675.4,63.7 675.7,64.1 676.0,63.0" stroke="#ff00ff" />
<path d="M76.2,181.0 76.3,11.0 76.8,11.0 77.6,44.0 79.0,53.0 79.0,53.0 79.3,53.8 79.6,57.5 79.9,55.2 80.2,59.8 80.5,47.5 80.8,64.7 81.1,52.8 81.4,59.0 81.7,50.6 82.0,60.3 82.3,54.6 82.6,60.5 83.0,56.1 83.3,60.7 83.6,53.7 83.9,60.3 84.2,52.8 84.5,60.9 84.8,53.6 85.1,61.2 85.4,55.3 85.7,60.4 86.0,54.0 86.3,59.4 86.6,52.8 86.9,61.7 87.2,52.8 87.5,61.5 87.8,51.2 88.1,58.0 88.4,44.3 88.7,63.2 89.0,47.9 89.3,60.4 89.6,47.1 89.9,59.5 90.2,49.1 90.5,59.4 90.9,48.8 91.2,57.2 91.5,50.5 91.8,58.7 92.1,52.5 92.4,56.7 92.7,50.0 93.0,58.5 93.3,51.3 93.6,59.1 93.9,49.8 94.2,59.4 94.5,51.2 94.8,61.1 95.1,50.1 95.4,58.6 95.7,49.1 96.0,60.1 96.3,45.6 96.6,57.7 96.9,47.4 97.2,55.3 97.5,47.5 97.8,51.8 98.1,48.7 98.5,55.6 98.8,45.8 99.1,54.6 99.4,45.2 99.7,55.3 100.0,44.7 100.3,50.3 100.6,40.7 100.9,50.2 101.2,41.1 101.5,49.4 101.8,40.9 102.1,48.7 102.4,40.4 102.7,46.4 103.0,33.4 103.3,45.3 103.6,36.4 103.9,40.4 104.2,32.2 104.5,40.8 104.8,33.0 105.1,42.1 105.4,32.1 105.7,40.2 106.0,28.2 106.4,36.2 106.7,26.6 107.0,32.7 107.3,20.8 107.6,33.6 107.9,21.1 108.2,32.6 108.5,19.7 108.8,28.8 109.1,22.5 109.4,28.1 109.7,25.9 110.0,27.0 110.0,26.0 111.5,40.0 112.2,70.0 113.0,150.0 113.8,230.0 115.9,276.0 115.9,276.0 116.2,275.5 116.5,280.1 116.8,274.2 117.1,282.4 117.4,276.1 117.7,281.1 118.0,276.5 118.3,282.0 118.6,276.5 118.9,289.9 119.2,276.1 119.5,288.3 119.8,277.3 120.1,287.8 120.4,278.9 120.7,290.3 121.0,277.7 121.3,288.6 121.6,281.7 121.9,288.7 122.2,282.8 122.5,288.3 122.8,283.3 123.1,287.1 123.4,281.1 123.7,287.1 124.1,283.0 124.4,287.3 124.7,280.5 125.0,288.1 125.3,276.9 125.6,285.5 125.9,276.9 126.2,283.1 126.5,273.4 126.8,285.4 127.1,272.2 127.4,283.7 127.7,272.8 128.0,278.2 128.3,271.2 128.6,284.1 128.9,266.7 129.2,279.6 129.5,264.2 129.8,272.3 130.1,264.0 130.4,275.5 130.7,262.7 131.0,269.7 131.3,256.6 131.6,270.7 131.9,260.7 132.2,268.1 132.5,256.5 132.8,265.2 133.1,252.9 133.4,269.3 133.7,253.0 134.0,263.7 134.3,254.0 134.6,262.3 134.9,253.6 135.2,259.8 135.5,252.5 135.8,260.2 136.1,253.1 136.4,260.0 136.7,250.1 137.0,261.3 137.3,252.7 137.6,263.7 137.9,255.2 138.2,263.1 138.5,251.5 138.8,266.3 139.1,253.6 139.4,271.1 139.8,255.3 140.1,271.3 140.4,261.7 140.7,267.9 141.0,261.5 141.3,267.5 141.6,265.4 141.9,270.0 142.2,262.3 142.5,270.6 142.8,265.3 143.1,273.8 143.4,267.8 143.7,274.2 144.0,270.0 144.3,275.8 144.6,269.4 144.9,280.1 145.2,268.4 145.5,285.0 145.8,268.5 146.1,280.8 146.4,269.0 146.7,277.6 147.0,269.1 147.3,279.2 147.6,266.8 147.9,277.5 148.2,265.0 148.5,277.7 148.8,270.2 149.1,276.6 149.4,265.4 149.7,272.1 150.0,259.6 150.3,270.9 150.6,262.0 150.9,266.4 151.2,259.6 151.5,268.8 151.8,256.9 152.1,266.8 152.4,253.4 152.7,261.0 153.0,249.6 153.3,261.4 153.6,251.6 153.9,256.7 154.2,248.7 154.5,253.1 154.8,247.3 155.1,254.1 155.5,247.7 155.8,258.4 156.1,250.6 156.4,259.2 156.7,252.8 157.0,265.6 157.3,250.3 157.6,265.2 157.9,255.2 158.2,262.6 158.5,254.6 158.8,262.8 159.1,255.6 159.4,261.2 159.7,254.1 160.0,262.3 160.3,249.2 160.6,264.4 160.9,250.3 161.2,259.8 161.5,248.8 161.8,262.3 162.1,245.3 162.4,253.5 162.7,240.9 163.0,257.6 163.3,245.8 163.6,259.0 163.9,244.9 164.2,256.7 164.5,237.1 164.8,253.6 165.1,239.9 165.4,248.7 165.7,241.2 166.0,249.1 166.3,237.1 166.6,246.8 166.9,234.3 167.2,246.8 167.5,232.2 167.8,245.3 168.1,234.4 168.4,244.9 168.7,236.1 169.0,242.0 169.3,235.8 169.6,243.7 169.9,233.8 170.2,242.2 170.5,229.1 170.8,247.2 171.2,229.3 171.5,237.9 171.8,227.5 172.1,241.6 172.4,228.6 172.7,239.4 173.0,227.5 173.3,242.0 173.6,227.2 173.9,247.4 174.2,223.0 174.5,244.5 174.8,231.2 175.1,239.2 175.4,232.6 175.7,241.3 176.0,231.6 176.3,241.2 176.6,232.8 176.9,240.9 177.2,236.4 177.5,239.1 177.8,234.2 178.1,238.4 178.4,235.7 178.7,237.3 179.0,236.0 179.0,236.0 180.5,225.0 181.8,150.0 183.3,80.0 184.7,36.0 186.8,24.0 186.8,24.0 187.1,22.8 187.4,24.7 187.7,20.6 188.0,22.9 188.3,14.6 188.6,22.6 188.9,14.0 189.2,24.5 189.5,13.5 189.8,24.4 190.1,18.5 190.4,23.7 190.7,16.9 191.0,23.3 191.3,19.8 191.6,25.6 191.9,17.5 192.2,24.7 192.6,18.6 192.9,27.4 193.2,20.6 193.5,27.1 193.8,23.6 194.1,29.8 194.4,26.8 194.7,31.9 195.0,28.4 195.3,31.7 195.6,29.1 195.9,33.9 196.2,31.9 196.5,36.3 196.8,33.4 197.1,40.3 197.4,36.2 197.7,40.9 198.0,36.7 198.3,42.3 198.6,39.1 198.9,48.6 199.2,41.0 199.5,46.8 199.8,44.6 200.1,47.9 200.4,45.5 200.7,48.7 201.0,45.6 201.3,53.4 201.6,46.5 201.9,52.6 202.2,46.7 202.5,56.5 202.8,45.5 203.1,58.7 203.5,50.1 203.8,59.8 204.1,50.8 204.4,58.7 204.7,53.0 205.0,57.7 205.3,50.1 205.6,57.8 205.9,51.5 206.2,60.8 206.5,50.7 206.8,59.0 207.1,53.9 207.4,59.4 207.7,54.0 208.0,62.0 208.3,52.3 208.6,62.8 208.9,50.3 209.2,61.1 209.5,56.6 209.8,60.7 210.1,54.0 210.4,60.7 210.7,58.0 211.0,64.7 211.3,58.6 211.6,68.0 211.9,56.6 212.2,70.7 212.5,59.0 212.8,67.1 213.1,61.6 213.4,69.1 213.7,67.7 214.0,73.8 214.4,69.3 214.7,73.3 215.0,71.1 215.3,76.8 215.6,73.9 215.9,79.6 216.2,72.7 216.5,80.8 216.8,75.6 217.1,83.1 217.4,77.2 217.7,84.1 218.0,76.4 218.3,82.8 218.6,76.7 218.9,80.1 219.2,75.0 219.5,80.0 219.8,73.5 220.1,75.4 220.4,70.4 220.7,76.2 221.0,66.1 221.3,73.8 221.6,68.4 221.9,69.4 222.2,66.2 222.5,70.1 222.8,61.9 223.1,68.9 223.4,60.6 223.7,66.3 224.0,57.6 224.3,67.4 224.6,59.6 224.9,63.7 225.3,58.8 225.6,64.3 225.9,58.8 226.2,62.7 226.5,53.4 226.8,60.0 227.1,52.5 227.4,60.1 227.7,51.7 228.0,61.1 228.3,51.7 228.6,57.5 228.9,52.2 229.2,59.3 229.5,53.1 229.8,58.1 230.1,52.2 230.4,58.4 230.7,51.8 231.0,60.8 231.3,51.8 231.6,58.7 231.9,52.1 232.2,58.4 232.5,54.4 232.8,59.0 233.1,55.4 233.4,59.3 233.7,57.0 234.0,60.8 234.3,58.5 234.6,61.5 234.9,57.6 235.2,63.7 235.5,56.1 235.8,60.7 236.2,53.7 236.5,59.0 236.8,53.3 237.1,59.1 237.4,47.4 237.7,57.8 238.0,46.2 238.3,56.9 238.6,47.0 238.9,52.1 239.2,45.4 239.5,52.1 239.8,46.2 240.1,48.0 240.4,42.3 240.7,47.5 241.0,41.0 241.3,51.2 241.6,39.8 241.9,48.1 242.2,40.9 242.5,44.6 242.8,37.5 243.1,43.6 243.4,35.8 243.7,44.6 244.0,30.2 244.3,45.4 244.6,33.2 244.9,40.7 245.2,29.8 245.5,37.3 245.8,28.2 246.1,38.1 246.4,28.1 246.7,38.0 247.1,24.5 247.4,34.4 247.7,26.6 248.0,32.1 248.3,23.0 248.6,32.8 248.9,25.2 249.2,33.4 249.5,24.7 249.8,35.4 250.1,23.0 250.4,35.3 250.7,26.0 251.0,33.5 251.3,29.1 251.6,31.4 251.9,31.4 252.2,34.4 252.5,35.0 252.5,35.0 253.5,52.0 254.5,150.0 255.7,240.0 258.4,276.0 258.4,276.0 258.7,276.0 259.0,280.1 259.3,276.1 259.6,283.7 259.9,276.7 260.2,282.1 260.5,275.6 260.8,284.3 261.1,274.4 261.4,290.5 261.7,279.4 262.0,288.5 262.3,279.0 262.6,284.6 262.9,278.8 263.2,288.1 263.5,277.4 263.8,285.6 264.1,276.4 264.4,286.7 264.7,277.1 265.1,288.7 265.4,271.6 265.7,285.5 266.0,273.3 266.3,284.5 266.6,269.8 266.9,281.5 267.2,275.3 267.5,282.0 267.8,272.3 268.1,278.9 268.4,272.5 268.7,279.9 269.0,272.3 269.3,279.8 269.6,265.6 269.9,280.5 270.2,265.2 270.5,278.8 270.8,270.8 271.1,282.6 271.4,266.1 271.7,274.8 272.0,263.4 272.3,277.7 272.6,261.4 272.9,278.0 273.2,261.4 273.5,271.0 273.8,263.2 274.1,268.2 274.4,261.2 274.7,266.1 275.0,259.5 275.3,263.8 275.6,256.1 275.9,264.1 276.2,252.8 276.5,262.1 276.8,254.0 277.1,265.7 277.4,254.2 277.8,263.9 278.1,250.4 278.4,263.0 278.7,250.3 279.0,262.9 279.3,252.6 279.6,269.4 279.9,256.8 280.2,269.0 280.5,256.3 280.8,271.9 281.1,255.0 281.4,271.0 281.7,265.3 282.0,273.2 282.3,264.2 282.6,275.8 282.9,266.7 283.2,280.5 283.5,269.6 283.8,278.8 284.1,270.4 284.4,278.4 284.7,274.4 285.0,282.8 285.3,276.0 285.6,281.6 285.9,278.3 286.2,283.1 286.5,276.8 286.8,282.0 287.1,277.0 287.4,279.8 287.7,272.5 288.0,281.3 288.3,274.9 288.6,279.0 288.9,273.4 289.2,277.2 289.5,271.4 289.8,278.2 290.1,264.4 290.4,273.3 290.8,262.5 291.1,274.9 291.4,264.9 291.7,269.0 292.0,260.3 292.3,266.8 292.6,260.1 292.9,263.0 293.2,258.2 293.5,266.9 293.8,254.8 294.1,262.6 294.4,246.6 294.7,261.6 295.0,248.9 295.3,261.9 295.6,254.8 295.9,259.2 296.2,254.6 296.5,261.2 296.8,255.6 297.1,261.5 297.4,251.9 297.7,266.2 298.0,250.1 298.3,264.3 298.6,256.7 298.9,268.1 299.2,250.0 299.5,264.4 299.8,256.2 300.1,266.6 300.4,256.9 300.7,265.3 301.0,259.4 301.3,268.1 301.6,258.7 301.9,270.3 302.2,264.1 302.5,267.5 302.8,256.4 303.1,272.6 303.5,256.4 303.8,267.0 304.1,253.8 304.4,268.2 304.7,260.3 305.0,264.9 305.3,256.9 305.6,268.0 305.9,253.6 306.2,262.1 306.5,254.8 306.8,259.8 307.1,247.6 307.4,259.8 307.7,251.5 308.0,264.4 308.3,242.8 308.6,254.6 308.9,244.4 309.2,250.3 309.5,241.1 309.8,249.2 310.1,241.0 310.4,254.1 310.7,239.1 311.0,247.4 311.3,236.4 311.6,242.4 311.9,233.7 312.2,243.5 312.5,235.3 312.8,245.2 313.1,229.1 313.4,240.5 313.7,228.9 314.0,240.6 314.3,226.0 314.6,240.5 314.9,230.3 315.2,236.5 315.5,226.1 315.8,241.4 316.2,229.5 316.5,237.2 316.8,228.9 317.1,238.1 317.4,227.4 317.7,242.4 318.0,228.9 318.3,237.7 318.6,230.4 318.9,239.3 319.2,230.5 319.5,237.7 319.8,226.7 320.1,241.1 320.4,228.1 320.7,237.2 321.0,230.3 321.3,235.5 321.6,232.5 321.9,236.0 322.2,233.3 322.5,234.7 322.5,234.7 323.3,200.0 324.6,150.0 325.9,80.0 327.2,36.0 329.3,22.0 329.3,22.0 329.6,20.9 329.9,21.6 330.2,17.5 330.5,23.3 330.8,14.6 331.1,24.2 331.4,15.1 331.7,21.1 332.0,14.7 332.3,20.4 332.6,16.1 332.9,19.3 333.2,16.4 333.5,19.2 333.8,15.2 334.1,21.0 334.4,16.2 334.7,23.0 335.1,19.1 335.4,25.5 335.7,19.9 336.0,23.8 336.3,19.0 336.6,24.7 336.9,21.6 337.2,25.0 337.5,21.3 337.8,26.4 338.1,22.2 338.4,27.4 338.7,24.6 339.0,31.5 339.3,26.1 339.6,32.1 339.9,28.2 340.2,34.7 340.5,26.5 340.8,40.8 341.1,33.1 341.4,39.3 341.7,32.8 342.0,41.5 342.3,38.2 342.6,45.0 342.9,40.8 343.2,46.0 343.5,42.0 343.8,49.8 344.1,44.5 344.4,48.8 344.7,45.8 345.0,53.5 345.3,46.3 345.6,52.2 346.0,46.6 346.3,56.5 346.6,47.5 346.9,57.1 347.2,47.0 347.5,56.4 347.8,51.8 348.1,60.2 348.4,52.5 348.7,62.5 349.0,50.1 349.3,63.4 349.6,53.6 349.9,62.9 350.2,54.8 350.5,62.1 350.8,58.0 351.1,62.0 351.4,56.5 351.7,62.9 352.0,58.2 352.3,66.6 352.6,58.5 352.9,65.5 353.2,62.8 353.5,67.0 353.8,63.1 354.1,68.9 354.4,64.8 354.7,72.4 355.0,66.2 355.3,74.2 355.6,65.9 355.9,76.2 356.2,65.7 356.5,74.7 356.9,69.5 357.2,75.8 357.5,71.0 357.8,78.5 358.1,69.2 358.4,82.2 358.7,74.0 359.0,79.8 359.3,74.8 359.6,78.9 359.9,76.0 360.2,82.7 360.5,75.0 360.8,85.1 361.1,78.6 361.4,86.9 361.7,79.9 362.0,85.8 362.3,78.3 362.6,83.8 362.9,77.4 363.2,82.6 363.5,78.0 363.8,82.4 364.1,77.7 364.4,80.4 364.7,75.5 365.0,79.7 365.3,72.4 365.6,76.5 365.9,70.6 366.2,74.6 366.5,67.7 366.8,74.1 367.1,67.3 367.4,69.0 367.8,63.5 368.1,66.6 368.4,62.2 368.7,64.0 369.0,56.6 369.3,66.7 369.6,53.2 369.9,63.0 370.2,55.2 370.5,61.3 370.8,53.8 371.1,60.4 371.4,57.3 371.7,58.6 372.0,55.5 372.3,59.2 372.6,55.6 372.9,59.5 373.2,55.9 373.5,63.1 373.8,56.0 374.1,63.5 374.4,52.7 374.7,62.0 375.0,55.8 375.3,60.8 375.6,56.0 375.9,63.3 376.2,55.6 376.5,64.5 376.8,57.7 377.1,66.5 377.4,55.2 377.7,64.8 378.0,57.4 378.3,63.4 378.7,59.0 379.0,61.4 379.3,54.4 379.6,60.2 379.9,53.9 380.2,58.9 380.5,51.7 380.8,55.9 381.1,49.2 381.4,56.6 381.7,47.8 382.0,51.5 382.3,46.3 382.6,53.9 382.9,44.6 383.2,51.9 383.5,41.1 383.8,49.6 384.1,40.6 384.4,45.8 384.7,39.1 385.0,47.6 385.3,37.6 385.6,46.8 385.9,38.0 386.2,44.2 386.5,34.5 386.8,42.1 387.1,34.7 387.4,45.0 387.7,30.4 388.0,43.4 388.3,28.1 388.6,42.3 388.9,30.3 389.2,37.5 389.6,30.4 389.9,35.1 390.2,28.9 390.5,36.3 390.8,28.2 391.1,33.5 391.4,27.2 391.7,38.2 392.0,26.5 392.3,35.0 392.6,29.0 392.9,33.9 393.2,29.3 393.5,37.4 393.8,29.3 394.1,34.7 394.4,31.0 394.7,34.9 395.0,35.0 395.0,35.0 396.0,52.0 396.8,150.0 397.6,240.0 400.5,270.0 400.5,270.0 400.8,270.2 401.1,273.0 401.4,268.4 401.7,279.4 402.0,270.2 402.3,277.5 402.6,266.2 402.9,281.8 403.2,267.3 403.5,287.6 403.8,271.1 404.1,280.7 404.4,272.2 404.7,283.6 405.0,273.2 405.3,283.5 405.6,275.6 405.9,286.9 406.3,277.3 406.6,287.3 406.9,278.9 407.2,283.4 407.5,279.0 407.8,284.0 408.1,278.9 408.4,282.8 408.7,278.9 409.0,288.3 409.3,279.1 409.6,286.6 409.9,275.0 410.2,289.1 410.5,280.6 410.8,288.4 411.1,278.3 411.4,287.3 411.7,276.6 412.0,288.4 412.3,278.9 412.6,287.1 412.9,274.9 413.2,289.0 413.5,275.5 413.8,289.7 414.1,274.7 414.4,284.9 414.7,272.2 415.0,285.5 415.3,270.5 415.6,281.5 415.9,273.3 416.2,283.0 416.5,269.9 416.8,280.7 417.2,266.9 417.5,275.8 417.8,264.6 418.1,273.7 418.4,257.8 418.7,272.6 419.0,257.7 419.3,265.0 419.6,258.6 419.9,262.1 420.2,250.6 420.5,263.8 420.8,255.7 421.1,259.4 421.4,251.5 421.7,260.9 422.0,251.9 422.3,260.9 422.6,254.9 422.9,263.1 423.2,258.1 423.5,264.2 423.8,261.3 424.1,267.4 424.4,259.5 424.7,270.5 425.0,260.0 425.3,270.5 425.6,265.1 425.9,276.3 426.2,260.2 426.5,281.7 426.8,265.2 427.1,275.9 427.4,267.3 427.7,279.4 428.1,266.0 428.4,279.6 428.7,272.1 429.0,281.4 429.3,276.3 429.6,286.1 429.9,275.0 430.2,286.7 430.5,276.8 430.8,288.6 431.1,278.6 431.4,288.8 431.7,278.2 432.0,283.8 432.3,271.1 432.6,285.5 432.9,268.4 433.2,279.9 433.5,271.5 433.8,277.2 434.1,267.8 434.4,274.0 434.7,266.5 435.0,277.5 435.3,264.7 435.6,275.4 435.9,267.0 436.2,273.9 436.5,260.3 436.8,271.7 437.1,265.4 437.4,275.8 437.7,259.6 438.0,271.0 438.3,261.6 438.6,270.0 439.0,264.5 439.3,269.2 439.6,262.6 439.9,271.2 440.2,261.1 440.5,271.5 440.8,258.7 441.1,264.7 441.4,253.6 441.7,262.5 442.0,253.3 442.3,262.1 442.6,257.3 442.9,264.8 443.2,250.0 443.5,261.0 443.8,248.7 444.1,264.6 444.4,257.0 444.7,268.1 445.0,258.8 445.3,270.5 445.6,257.7 445.9,268.6 446.2,258.7 446.5,265.8 446.8,261.6 447.1,266.2 447.4,261.5 447.7,265.1 448.0,258.8 448.3,265.3 448.6,256.6 448.9,263.5 449.2,250.7 449.5,262.5 449.9,250.0 450.2,262.0 450.5,248.3 450.8,260.2 451.1,245.7 451.4,259.0 451.7,242.5 452.0,255.7 452.3,239.7 452.6,253.8 452.9,243.3 453.2,252.6 453.5,240.5 453.8,253.7 454.1,239.4 454.4,250.7 454.7,238.8 455.0,250.2 455.3,239.0 455.6,246.3 455.9,240.5 456.2,242.8 456.5,239.5 456.8,241.8 457.1,237.2 457.4,241.0 457.7,235.4 458.0,241.2 458.3,233.8 458.6,241.2 458.9,231.7 459.2,242.0 459.5,235.5 459.8,241.7 460.1,235.0 460.4,241.8 460.8,232.1 461.1,244.4 461.4,233.2 461.7,244.7 462.0,231.0 462.3,245.4 462.6,231.7 462.9,243.2 463.2,235.4 463.5,242.2 463.8,234.3 464.1,241.6 464.4,233.2 464.7,239.2 465.0,234.1 465.3,238.2 465.6,236.3 465.9,238.4 466.2,238.0 466.2,235.0 467.0,200.0 468.4,150.0 469.4,80.0 470.6,35.0 472.8,22.0 472.8,22.0 473.1,21.0 473.4,22.2 473.7,19.9 474.0,21.1 474.3,17.2 474.6,24.2 474.9,13.3 475.2,25.8 475.5,15.3 475.8,22.9 476.1,13.3 476.4,21.1 476.7,14.7 477.0,21.1 477.3,17.5 477.6,20.8 477.9,19.5 478.3,22.7 478.6,21.1 478.9,26.3 479.2,23.4 479.5,29.7 479.8,23.4 480.1,32.1 480.4,24.6 480.7,33.7 481.0,28.2 481.3,34.5 481.6,27.4 481.9,37.4 482.2,27.2 482.5,39.9 482.8,31.8 483.1,38.4 483.4,35.3 483.7,43.4 484.0,38.1 484.3,46.5 484.6,38.5 484.9,48.9 485.2,39.6 485.5,49.9 485.8,44.3 486.1,47.6 486.4,44.0 486.7,49.2 487.0,45.9 487.3,52.7 487.6,48.2 487.9,52.8 488.2,51.6 488.5,55.6 488.9,53.4 489.2,58.7 489.5,50.7 489.8,61.6 490.1,54.1 490.4,64.4 490.7,54.9 491.0,63.5 491.3,52.1 491.6,60.5 491.9,53.0 492.2,61.4 492.5,56.8 492.8,64.6 493.1,54.9 493.4,65.3 493.7,57.5 494.0,64.4 494.3,55.7 494.6,71.2 494.9,54.7 495.2,69.2 495.5,62.3 495.8,72.4 496.1,62.4 496.4,70.9 496.7,59.2 497.0,69.9 497.3,63.1 497.6,70.3 497.9,63.8 498.2,72.7 498.5,67.7 498.8,72.5 499.1,64.9 499.4,73.8 499.8,66.9 500.1,77.6 500.4,69.3 500.7,79.0 501.0,72.2 501.3,82.0 501.6,76.5 501.9,81.1 502.2,79.6 502.5,83.1 502.8,79.4 503.1,85.4 503.4,78.9 503.7,86.8 504.0,75.7 504.3,84.5 504.6,73.8 504.9,81.1 505.2,76.2 505.5,78.6 505.8,70.7 506.1,77.2 506.4,69.8 506.7,77.4 507.0,68.4 507.3,74.7 507.6,66.6 507.9,70.4 508.2,65.5 508.5,69.0 508.8,61.8 509.1,68.2 509.4,64.4 509.7,68.7 510.0,60.7 510.4,69.7 510.7,57.2 511.0,65.4 511.3,59.1 511.6,63.7 511.9,54.5 512.2,63.1 512.5,55.4 512.8,59.1 513.1,55.7 513.4,59.2 513.7,56.3 514.0,58.1 514.3,54.3 514.6,59.5 514.9,52.8 515.2,57.3 515.5,51.6 515.8,59.2 516.1,52.9 516.4,58.1 516.7,55.7 517.0,58.3 517.3,55.4 517.6,61.0 517.9,55.2 518.2,62.1 518.5,54.1 518.8,63.9 519.1,56.9 519.4,66.4 519.7,55.9 520.0,63.4 520.3,58.6 520.6,67.6 521.0,52.1 521.3,67.4 521.6,53.3 521.9,63.5 522.2,53.3 522.5,59.4 522.8,55.1 523.1,58.5 523.4,51.4 523.7,59.2 524.0,50.8 524.3,57.6 524.6,50.3 524.9,59.4 525.2,43.7 525.5,53.6 525.8,45.6 526.1,54.2 526.4,44.1 526.7,55.1 527.0,41.1 527.3,51.2 527.6,44.4 527.9,47.6 528.2,42.3 528.5,47.2 528.8,41.5 529.1,44.2 529.4,39.8 529.7,42.9 530.0,38.3 530.3,42.0 530.6,35.3 530.9,41.6 531.2,35.4 531.5,40.6 531.9,31.8 532.2,37.9 532.5,33.1 532.8,38.8 533.1,27.3 533.4,38.6 533.7,31.0 534.0,34.8 534.3,30.0 534.6,34.3 534.9,27.1 535.2,34.8 535.5,26.4 535.8,32.0 536.1,26.4 536.4,29.5 536.7,27.3 537.0,28.0 537.0,28.0 538.8,32.0 539.6,60.0 540.2,150.0 541.2,240.0 546.5,278.0 546.5,278.0 546.8,276.9 547.1,282.1 547.4,279.3 547.7,287.2 548.0,276.9 548.3,290.4 548.6,279.6 548.9,287.7 549.2,281.1 549.5,286.0 549.8,280.9 550.1,288.5 550.4,279.3 550.7,290.9 551.0,281.1 551.3,292.2 551.6,280.6 551.9,288.5 552.2,280.5 552.5,287.4 552.8,281.7 553.1,293.7 553.4,276.3 553.7,289.7 554.0,277.1 554.4,283.8 554.7,278.7 555.0,285.3 555.3,276.4 555.6,285.8 555.9,275.9 556.2,287.4 556.5,275.1 556.8,282.3 557.1,275.5 557.4,280.6 557.7,276.8 558.0,283.8 558.3,274.8 558.6,280.7 558.9,268.4 559.2,280.9 559.5,268.1 559.8,277.5 560.1,265.2 560.4,275.5 560.7,266.6 561.0,276.2 561.3,263.3 561.6,269.1 561.9,258.0 562.2,271.7 562.5,256.9 562.8,270.8 563.1,259.3 563.4,270.5 563.7,256.5 564.0,270.1 564.3,260.2 564.6,264.2 564.9,258.8 565.2,266.2 565.5,260.8 565.8,272.3 566.1,261.6 566.4,272.6 566.7,261.7 567.0,276.6 567.3,261.0 567.6,274.7 567.9,260.9 568.2,274.2 568.5,264.9 568.8,273.7 569.1,265.6 569.4,275.9 569.8,271.4 570.1,275.3 570.4,272.0 570.7,281.1 571.0,270.3 571.3,281.1 571.6,278.2 571.9,286.5 572.2,273.9 572.5,291.8 572.8,280.2 573.1,286.8 573.4,277.2 573.7,288.5 574.0,275.1 574.3,284.8 574.6,273.8 574.9,288.7 575.2,277.2 575.5,286.9 575.8,275.7 576.1,284.4 576.4,273.8 576.7,281.5 577.0,270.2 577.3,276.9 577.6,268.7 577.9,280.9 578.2,263.2 578.5,275.2 578.8,264.4 579.1,270.0 579.4,262.9 579.7,268.5 580.0,259.6 580.3,264.0 580.6,257.9 580.9,264.0 581.2,253.6 581.5,265.9 581.8,248.7 582.1,267.9 582.4,248.9 582.7,263.0 583.0,253.2 583.3,259.3 583.6,252.7 583.9,260.9 584.2,251.4 584.5,260.6 584.9,252.4 585.2,263.0 585.5,254.6 585.8,268.9 586.1,255.7 586.4,265.3 586.7,258.5 587.0,266.2 587.3,259.7 587.6,269.8 587.9,259.5 588.2,267.6 588.5,260.8 588.8,268.1 589.1,258.5 589.4,267.0 589.7,256.6 590.0,268.6 590.3,255.9 590.6,263.3 590.9,254.9 591.2,263.8 591.5,257.4 591.8,263.2 592.1,256.8 592.4,264.9 592.7,253.0 593.0,261.5 593.3,252.9 593.6,262.4 593.9,253.1 594.2,259.9 594.5,252.5 594.8,257.7 595.1,251.9 595.4,255.4 595.7,248.0 596.0,254.2 596.3,243.6 596.6,252.5 596.9,245.6 597.2,249.8 597.5,243.5 597.8,248.7 598.1,242.2 598.4,250.0 598.7,244.1 599.0,247.3 599.3,243.1 599.6,247.3 599.9,243.1 600.3,245.7 600.6,240.9 600.9,244.5 601.2,240.9 601.5,244.3 601.8,238.0 602.1,245.2 602.4,233.5 602.7,246.2 603.0,235.5 603.3,247.9 603.6,234.6 603.9,248.0 604.2,235.1 604.5,246.4 604.8,232.8 605.1,251.1 605.4,234.5 605.7,251.7 606.0,239.5 606.3,254.0 606.6,235.5 606.9,248.5 607.2,243.0 607.5,245.0 607.8,244.0 607.8,244.0 609.0,200.0 610.5,150.0 611.5,80.0 613.0,35.0 616.0,22.0 616.0,22.0 616.3,21.5 616.6,22.1 616.9,20.8 617.2,22.4 617.5,20.2 617.8,22.6 618.1,20.4 618.4,27.5 618.7,17.8 619.0,27.9 619.3,15.3 619.6,28.3 619.9,15.6 620.2,27.8 620.5,18.6 620.8,24.3 621.1,16.2 621.4,24.8 621.7,19.1 622.0,23.6 622.3,19.1 622.6,28.2 622.9,19.5 623.2,28.1 623.5,21.4 623.8,29.5 624.1,21.9 624.4,27.4 624.7,22.5 625.0,31.0 625.3,25.2 625.6,33.3 625.9,27.8 626.3,32.8 626.6,28.0 626.9,35.5 627.2,27.1 627.5,37.4 627.8,28.8 628.1,38.8 628.4,31.0 628.7,39.7 629.0,33.3 629.3,41.1 629.6,31.2 629.9,39.1 630.2,36.8 630.5,45.7 630.8,38.2 631.1,45.1 631.4,37.2 631.7,44.4 632.0,39.2 632.3,47.4 632.6,42.1 632.9,48.1 633.2,41.0 633.5,48.5 633.8,43.5 634.1,48.6 634.4,43.7 634.7,52.7 635.0,44.7 635.3,50.8 635.6,46.0 635.9,52.2 636.2,47.7 636.5,55.0 636.8,46.4 637.1,57.9 637.4,48.1 637.7,57.7 638.0,52.0 638.3,59.0 638.6,53.2 638.9,62.2 639.2,53.7 639.5,63.9 639.8,55.0 640.1,65.3 640.4,59.5 640.7,63.3 641.0,60.9 641.3,65.4 641.6,59.7 641.9,66.7 642.2,62.8 642.5,65.7 642.8,63.9 643.1,69.8 643.4,60.9 643.7,70.8 644.0,64.0 644.3,76.1 644.6,67.2 644.9,72.8 645.2,67.9 645.5,75.8 645.8,68.5 646.2,75.9 646.5,68.7 646.8,74.5 647.1,70.5 647.4,75.9 647.7,70.3 648.0,78.4 648.3,71.0 648.6,76.9 648.9,72.9 649.2,79.3 649.5,71.5 649.8,77.3 650.1,72.9 650.4,77.5 650.7,72.7 651.0,75.4 651.3,69.8 651.6,75.3 651.9,69.8 652.2,74.3 652.5,69.0 652.8,75.1 653.1,69.1 653.4,72.4 653.7,71.1 654.0,74.0 654.3,69.0 654.6,74.2 654.9,65.5 655.2,72.3 655.5,68.4 655.8,74.0 656.1,65.3 656.4,71.3 656.7,64.4 657.0,68.8 657.3,60.5 657.6,69.3 657.9,62.5 658.2,68.8 658.5,58.2 658.8,67.1 659.1,58.4 659.4,63.5 659.7,56.9 660.0,61.9 660.3,56.3 660.6,60.8 660.9,57.0 661.2,60.4 661.5,55.9 661.8,62.3 662.1,55.0 662.4,65.4 662.7,54.7 663.0,64.8 663.3,55.9 663.6,62.7 663.9,53.7 664.2,60.1 664.5,55.7 664.8,57.8 665.1,54.6 665.4,57.3 665.7,54.7 666.1,57.1 666.4,52.4 666.7,57.3 667.0,50.2 667.3,56.4 667.6,52.0 667.9,56.2 668.2,49.6 668.5,58.0 668.8,47.9 669.1,55.4 669.4,46.2 669.7,55.1 670.0,49.6 670.3,54.4 670.6,48.1 670.9,52.6 671.2,45.6 671.5,57.2 671.8,44.9 672.1,55.0 672.4,47.5 672.7,51.0 673.0,46.3 673.3,51.5 673.6,45.8 673.9,48.5 674.2,41.4 674.5,50.7 674.8,42.8 675.1,48.8 675.4,41.9 675.7,43.5 676.0,42.0" stroke="#00ff00" />
</g>
<rect x="536.2" y="6.0" width="133.29999999999995" height="102.0" fill="#fff" stroke="#5c5c5c" stroke-width="1.6"/>
<line x1="538.3" y1="19.0" x2="558.2" y2="19.0" stroke="#ff0000" stroke-width="1.3"/>
<text class="t" x="560.2" y="26.6" font-size="20">TSMC-SVM</text>
<line x1="538.3" y1="44.1" x2="558.2" y2="44.1" stroke="#0000ff" stroke-width="1.3"/>
<text class="t" x="560.2" y="51.7" font-size="20">TSMC-RBF</text>
<line x1="538.3" y1="69.2" x2="558.2" y2="69.2" stroke="#ff00ff" stroke-width="1.3"/>
<text class="t" x="560.2" y="76.8" font-size="20">TSMC</text>
<line x1="538.3" y1="94.3" x2="558.2" y2="94.3" stroke="#00ff00" stroke-width="1.3"/>
<text class="t" x="560.2" y="101.9" font-size="20">PID</text>
<text class="t" x="68.4" y="19.25" font-size="19.5" text-anchor="end">0.04</text>
<text class="t" x="68.6" y="92.10" font-size="19.5" text-anchor="end">0.02</text>
<text class="t" x="69.6" y="164.75" font-size="19.5" text-anchor="end">0</text>
<text class="t" x="69.2" y="237.35" font-size="19.5" text-anchor="end">-0.02</text>
<text class="t" x="75.4" y="320.2" font-size="19.5" text-anchor="middle">0</text>
<text class="t" x="175.2" y="320.2" font-size="19.5" text-anchor="middle">10</text>
<text class="t" x="275.1" y="320.2" font-size="19.5" text-anchor="middle">20</text>
<text class="t" x="375.0" y="320.2" font-size="19.5" text-anchor="middle">30</text>
<text class="t" x="474.8" y="320.2" font-size="19.5" text-anchor="middle">40</text>
<text class="t" x="574.6" y="320.2" font-size="19.5" text-anchor="middle">50</text>
<text class="t" x="674.5" y="320.2" font-size="19.5" text-anchor="middle">60</text>
<text class="t" x="374.6" y="347.3" font-size="22.2" text-anchor="middle">Time(s)</text>
<text class="t" transform="translate(15.8,147.5) rotate(-90)" x="0" y="0" font-size="22.2" text-anchor="middle">Tracking Error</text>
</svg>
</body></html>
